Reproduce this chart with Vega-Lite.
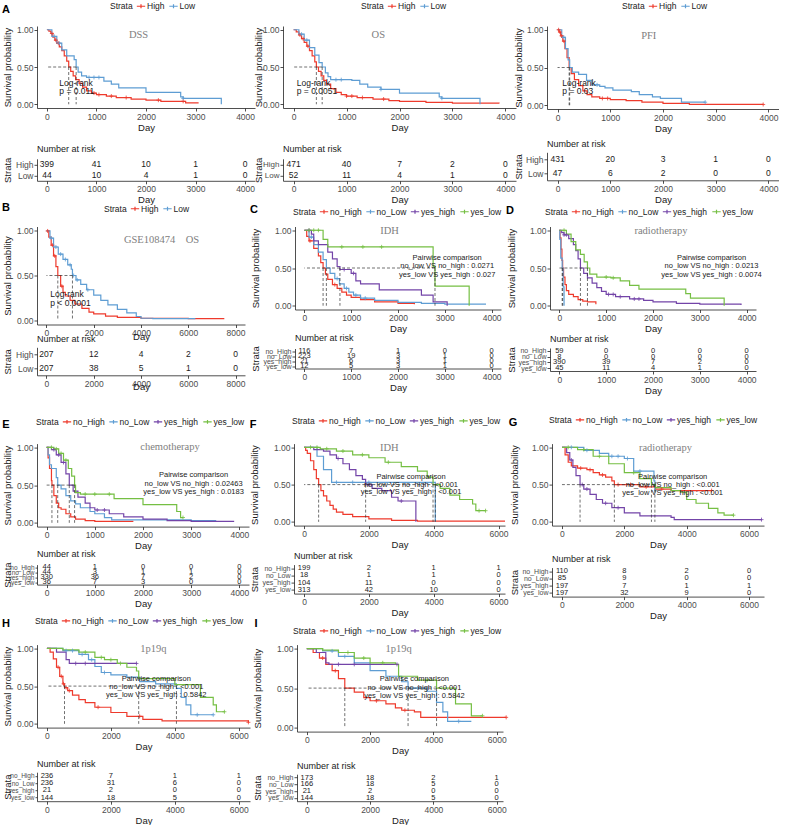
{
"$schema":"https://vega.github.io/schema/vega-lite/v6.json",
"padding":{"left":2,"top":1,"right":0,"bottom":0},
"background":"white",
"datasets":{
"km":[
{"p":"A1","g":"High","t":0,"s":1},{"p":"A1","g":"High","t":40,"s":0.98},{"p":"A1","g":"High","t":80,"s":0.95},{"p":"A1","g":"High","t":120,"s":0.9},{"p":"A1","g":"High","t":160,"s":0.86},{"p":"A1","g":"High","t":200,"s":0.82},{"p":"A1","g":"High","t":250,"s":0.77},{"p":"A1","g":"High","t":300,"s":0.72},{"p":"A1","g":"High","t":350,"s":0.65},{"p":"A1","g":"High","t":400,"s":0.58},{"p":"A1","g":"High","t":440,"s":0.5},{"p":"A1","g":"High","t":480,"s":0.44},{"p":"A1","g":"High","t":530,"s":0.38},{"p":"A1","g":"High","t":580,"s":0.33},{"p":"A1","g":"High","t":650,"s":0.28},{"p":"A1","g":"High","t":720,"s":0.23},{"p":"A1","g":"High","t":800,"s":0.18},{"p":"A1","g":"High","t":900,"s":0.15},{"p":"A1","g":"High","t":1000,"s":0.13},{"p":"A1","g":"High","t":1200,"s":0.11},{"p":"A1","g":"High","t":1400,"s":0.09},{"p":"A1","g":"High","t":1700,"s":0.07},{"p":"A1","g":"High","t":2000,"s":0.055},{"p":"A1","g":"High","t":2300,"s":0.04},{"p":"A1","g":"High","t":2800,"s":0.02},{"p":"A1","g":"High","t":3050,"s":0.01},
{"p":"A1","g":"Low","t":0,"s":1},{"p":"A1","g":"Low","t":100,"s":0.91},{"p":"A1","g":"Low","t":200,"s":0.82},{"p":"A1","g":"Low","t":300,"s":0.73},{"p":"A1","g":"Low","t":400,"s":0.65},{"p":"A1","g":"Low","t":550,"s":0.6},{"p":"A1","g":"Low","t":590,"s":0.5},{"p":"A1","g":"Low","t":630,"s":0.43},{"p":"A1","g":"Low","t":700,"s":0.38},{"p":"A1","g":"Low","t":800,"s":0.36},{"p":"A1","g":"Low","t":1150,"s":0.31},{"p":"A1","g":"Low","t":1300,"s":0.27},{"p":"A1","g":"Low","t":1450,"s":0.22},{"p":"A1","g":"Low","t":2000,"s":0.16},{"p":"A1","g":"Low","t":2700,"s":0.1},{"p":"A1","g":"Low","t":2750,"s":0.08},{"p":"A1","g":"Low","t":3520,"s":0},
{"p":"A2","g":"High","t":0,"s":1},{"p":"A2","g":"High","t":50,"s":0.97},{"p":"A2","g":"High","t":100,"s":0.93},{"p":"A2","g":"High","t":150,"s":0.88},{"p":"A2","g":"High","t":200,"s":0.83},{"p":"A2","g":"High","t":250,"s":0.78},{"p":"A2","g":"High","t":300,"s":0.72},{"p":"A2","g":"High","t":350,"s":0.65},{"p":"A2","g":"High","t":400,"s":0.57},{"p":"A2","g":"High","t":430,"s":0.5},{"p":"A2","g":"High","t":470,"s":0.44},{"p":"A2","g":"High","t":520,"s":0.38},{"p":"A2","g":"High","t":570,"s":0.32},{"p":"A2","g":"High","t":620,"s":0.27},{"p":"A2","g":"High","t":700,"s":0.21},{"p":"A2","g":"High","t":800,"s":0.16},{"p":"A2","g":"High","t":900,"s":0.13},{"p":"A2","g":"High","t":1000,"s":0.11},{"p":"A2","g":"High","t":1200,"s":0.09},{"p":"A2","g":"High","t":1500,"s":0.07},{"p":"A2","g":"High","t":1800,"s":0.05},{"p":"A2","g":"High","t":2000,"s":0.04},{"p":"A2","g":"High","t":2500,"s":0.025},{"p":"A2","g":"High","t":3000,"s":0.015},{"p":"A2","g":"High","t":3880,"s":0.01},
{"p":"A2","g":"Low","t":0,"s":1},{"p":"A2","g":"Low","t":100,"s":0.94},{"p":"A2","g":"Low","t":200,"s":0.86},{"p":"A2","g":"Low","t":300,"s":0.76},{"p":"A2","g":"Low","t":400,"s":0.66},{"p":"A2","g":"Low","t":480,"s":0.56},{"p":"A2","g":"Low","t":540,"s":0.5},{"p":"A2","g":"Low","t":600,"s":0.42},{"p":"A2","g":"Low","t":650,"s":0.37},{"p":"A2","g":"Low","t":700,"s":0.33},{"p":"A2","g":"Low","t":1100,"s":0.32},{"p":"A2","g":"Low","t":1250,"s":0.27},{"p":"A2","g":"Low","t":1400,"s":0.23},{"p":"A2","g":"Low","t":1650,"s":0.2},{"p":"A2","g":"Low","t":2000,"s":0.15},{"p":"A2","g":"Low","t":2750,"s":0.1},{"p":"A2","g":"Low","t":2800,"s":0.08},{"p":"A2","g":"Low","t":3520,"s":0},
{"p":"A3","g":"High","t":0,"s":1},{"p":"A3","g":"High","t":30,"s":0.97},{"p":"A3","g":"High","t":60,"s":0.92},{"p":"A3","g":"High","t":100,"s":0.85},{"p":"A3","g":"High","t":140,"s":0.75},{"p":"A3","g":"High","t":180,"s":0.63},{"p":"A3","g":"High","t":220,"s":0.5},{"p":"A3","g":"High","t":260,"s":0.42},{"p":"A3","g":"High","t":320,"s":0.34},{"p":"A3","g":"High","t":400,"s":0.26},{"p":"A3","g":"High","t":480,"s":0.19},{"p":"A3","g":"High","t":560,"s":0.14},{"p":"A3","g":"High","t":650,"s":0.11},{"p":"A3","g":"High","t":800,"s":0.09},{"p":"A3","g":"High","t":1000,"s":0.075},{"p":"A3","g":"High","t":1300,"s":0.06},{"p":"A3","g":"High","t":1600,"s":0.04},{"p":"A3","g":"High","t":2000,"s":0.025},{"p":"A3","g":"High","t":2500,"s":0.01},{"p":"A3","g":"High","t":3900,"s":0.01},
{"p":"A3","g":"Low","t":0,"s":1},{"p":"A3","g":"Low","t":80,"s":0.9},{"p":"A3","g":"Low","t":150,"s":0.75},{"p":"A3","g":"Low","t":200,"s":0.6},{"p":"A3","g":"Low","t":230,"s":0.5},{"p":"A3","g":"Low","t":280,"s":0.44},{"p":"A3","g":"Low","t":400,"s":0.41},{"p":"A3","g":"Low","t":550,"s":0.33},{"p":"A3","g":"Low","t":650,"s":0.27},{"p":"A3","g":"Low","t":800,"s":0.25},{"p":"A3","g":"Low","t":900,"s":0.23},{"p":"A3","g":"Low","t":1050,"s":0.2},{"p":"A3","g":"Low","t":1400,"s":0.18},{"p":"A3","g":"Low","t":1550,"s":0.14},{"p":"A3","g":"Low","t":1800,"s":0.11},{"p":"A3","g":"Low","t":1950,"s":0.09},{"p":"A3","g":"Low","t":2350,"s":0.04},{"p":"A3","g":"Low","t":2800,"s":0.04},
{"p":"B","g":"High","t":0,"s":1},{"p":"B","g":"High","t":100,"s":0.93},{"p":"B","g":"High","t":200,"s":0.84},{"p":"B","g":"High","t":300,"s":0.72},{"p":"B","g":"High","t":400,"s":0.6},{"p":"B","g":"High","t":480,"s":0.5},{"p":"B","g":"High","t":600,"s":0.38},{"p":"B","g":"High","t":700,"s":0.31},{"p":"B","g":"High","t":800,"s":0.27},{"p":"B","g":"High","t":1000,"s":0.22},{"p":"B","g":"High","t":1200,"s":0.18},{"p":"B","g":"High","t":1500,"s":0.13},{"p":"B","g":"High","t":1800,"s":0.09},{"p":"B","g":"High","t":2000,"s":0.07},{"p":"B","g":"High","t":2500,"s":0.045},{"p":"B","g":"High","t":3000,"s":0.03},{"p":"B","g":"High","t":4000,"s":0.02},{"p":"B","g":"High","t":5000,"s":0.02},{"p":"B","g":"High","t":6000,"s":0.015},{"p":"B","g":"High","t":7500,"s":0.01},
{"p":"B","g":"Low","t":0,"s":1},{"p":"B","g":"Low","t":150,"s":0.92},{"p":"B","g":"Low","t":300,"s":0.82},{"p":"B","g":"Low","t":500,"s":0.74},{"p":"B","g":"Low","t":700,"s":0.68},{"p":"B","g":"Low","t":900,"s":0.62},{"p":"B","g":"Low","t":1050,"s":0.57},{"p":"B","g":"Low","t":1100,"s":0.5},{"p":"B","g":"Low","t":1250,"s":0.45},{"p":"B","g":"Low","t":1450,"s":0.4},{"p":"B","g":"Low","t":1700,"s":0.34},{"p":"B","g":"Low","t":2000,"s":0.28},{"p":"B","g":"Low","t":2300,"s":0.22},{"p":"B","g":"Low","t":2600,"s":0.17},{"p":"B","g":"Low","t":3000,"s":0.12},{"p":"B","g":"Low","t":3400,"s":0.08},{"p":"B","g":"Low","t":3800,"s":0.04},{"p":"B","g":"Low","t":4000,"s":0.02},{"p":"B","g":"Low","t":4500,"s":0.015},{"p":"B","g":"Low","t":6300,"s":0.015},
{"p":"C","g":"no_High","t":0,"s":1},{"p":"C","g":"no_High","t":50,"s":0.92},{"p":"C","g":"no_High","t":100,"s":0.86},{"p":"C","g":"no_High","t":200,"s":0.76},{"p":"C","g":"no_High","t":300,"s":0.66},{"p":"C","g":"no_High","t":350,"s":0.57},{"p":"C","g":"no_High","t":400,"s":0.5},{"p":"C","g":"no_High","t":450,"s":0.42},{"p":"C","g":"no_High","t":500,"s":0.35},{"p":"C","g":"no_High","t":600,"s":0.28},{"p":"C","g":"no_High","t":700,"s":0.23},{"p":"C","g":"no_High","t":800,"s":0.18},{"p":"C","g":"no_High","t":900,"s":0.14},{"p":"C","g":"no_High","t":1000,"s":0.11},{"p":"C","g":"no_High","t":1200,"s":0.08},{"p":"C","g":"no_High","t":1500,"s":0.05},{"p":"C","g":"no_High","t":2000,"s":0.03},{"p":"C","g":"no_High","t":2350,"s":0.02},
{"p":"C","g":"no_Low","t":0,"s":1},{"p":"C","g":"no_Low","t":100,"s":0.91},{"p":"C","g":"no_Low","t":200,"s":0.81},{"p":"C","g":"no_Low","t":300,"s":0.71},{"p":"C","g":"no_Low","t":400,"s":0.61},{"p":"C","g":"no_Low","t":470,"s":0.5},{"p":"C","g":"no_Low","t":550,"s":0.43},{"p":"C","g":"no_Low","t":650,"s":0.36},{"p":"C","g":"no_Low","t":750,"s":0.29},{"p":"C","g":"no_Low","t":850,"s":0.23},{"p":"C","g":"no_Low","t":950,"s":0.18},{"p":"C","g":"no_Low","t":1050,"s":0.14},{"p":"C","g":"no_Low","t":1200,"s":0.1},{"p":"C","g":"no_Low","t":1500,"s":0.07},{"p":"C","g":"no_Low","t":2000,"s":0.045},{"p":"C","g":"no_Low","t":2500,"s":0.03},{"p":"C","g":"no_Low","t":3000,"s":0.02},{"p":"C","g":"no_Low","t":3880,"s":0.02},
{"p":"C","g":"yes_high","t":0,"s":1},{"p":"C","g":"yes_high","t":150,"s":0.95},{"p":"C","g":"yes_high","t":200,"s":0.86},{"p":"C","g":"yes_high","t":300,"s":0.81},{"p":"C","g":"yes_high","t":500,"s":0.71},{"p":"C","g":"yes_high","t":600,"s":0.62},{"p":"C","g":"yes_high","t":700,"s":0.52},{"p":"C","g":"yes_high","t":760,"s":0.48},{"p":"C","g":"yes_high","t":1000,"s":0.43},{"p":"C","g":"yes_high","t":1100,"s":0.33},{"p":"C","g":"yes_high","t":1200,"s":0.29},{"p":"C","g":"yes_high","t":1600,"s":0.21},{"p":"C","g":"yes_high","t":2500,"s":0.14},{"p":"C","g":"yes_high","t":2750,"s":0.05},{"p":"C","g":"yes_high","t":3050,"s":0},
{"p":"C","g":"yes_low","t":0,"s":1},{"p":"C","g":"yes_low","t":400,"s":0.88},{"p":"C","g":"yes_low","t":500,"s":0.78},{"p":"C","g":"yes_low","t":2750,"s":0.52},{"p":"C","g":"yes_low","t":2790,"s":0.26},{"p":"C","g":"yes_low","t":3520,"s":0},
{"p":"D","g":"no_High","t":0,"s":1},{"p":"D","g":"no_High","t":15,"s":0.9},{"p":"D","g":"no_High","t":35,"s":0.75},{"p":"D","g":"no_High","t":55,"s":0.6},{"p":"D","g":"no_High","t":70,"s":0.5},{"p":"D","g":"no_High","t":90,"s":0.38},{"p":"D","g":"no_High","t":120,"s":0.28},{"p":"D","g":"no_High","t":150,"s":0.2},{"p":"D","g":"no_High","t":200,"s":0.15},{"p":"D","g":"no_High","t":300,"s":0.12},{"p":"D","g":"no_High","t":400,"s":0.08},{"p":"D","g":"no_High","t":500,"s":0.06},{"p":"D","g":"no_High","t":600,"s":0.05},{"p":"D","g":"no_High","t":780,"s":0.02},
{"p":"D","g":"no_Low","t":0,"s":1},{"p":"D","g":"no_Low","t":10,"s":0.88},{"p":"D","g":"no_Low","t":30,"s":0.63},{"p":"D","g":"no_Low","t":60,"s":0.5},{"p":"D","g":"no_Low","t":80,"s":0.25},{"p":"D","g":"no_Low","t":100,"s":0},
{"p":"D","g":"yes_high","t":0,"s":1},{"p":"D","g":"yes_high","t":50,"s":0.97},{"p":"D","g":"yes_high","t":100,"s":0.94},{"p":"D","g":"yes_high","t":200,"s":0.89},{"p":"D","g":"yes_high","t":300,"s":0.81},{"p":"D","g":"yes_high","t":350,"s":0.73},{"p":"D","g":"yes_high","t":400,"s":0.62},{"p":"D","g":"yes_high","t":450,"s":0.5},{"p":"D","g":"yes_high","t":520,"s":0.43},{"p":"D","g":"yes_high","t":600,"s":0.37},{"p":"D","g":"yes_high","t":700,"s":0.3},{"p":"D","g":"yes_high","t":800,"s":0.24},{"p":"D","g":"yes_high","t":900,"s":0.19},{"p":"D","g":"yes_high","t":1000,"s":0.15},{"p":"D","g":"yes_high","t":1200,"s":0.12},{"p":"D","g":"yes_high","t":1500,"s":0.09},{"p":"D","g":"yes_high","t":1800,"s":0.07},{"p":"D","g":"yes_high","t":2000,"s":0.05},{"p":"D","g":"yes_high","t":2500,"s":0.03},{"p":"D","g":"yes_high","t":3000,"s":0.02},{"p":"D","g":"yes_high","t":3880,"s":0.01},
{"p":"D","g":"yes_low","t":0,"s":1},{"p":"D","g":"yes_low","t":150,"s":0.95},{"p":"D","g":"yes_low","t":250,"s":0.85},{"p":"D","g":"yes_low","t":350,"s":0.74},{"p":"D","g":"yes_low","t":450,"s":0.68},{"p":"D","g":"yes_low","t":530,"s":0.58},{"p":"D","g":"yes_low","t":600,"s":0.5},{"p":"D","g":"yes_low","t":650,"s":0.42},{"p":"D","g":"yes_low","t":800,"s":0.38},{"p":"D","g":"yes_low","t":1100,"s":0.37},{"p":"D","g":"yes_low","t":1300,"s":0.33},{"p":"D","g":"yes_low","t":1500,"s":0.27},{"p":"D","g":"yes_low","t":1700,"s":0.22},{"p":"D","g":"yes_low","t":2000,"s":0.22},{"p":"D","g":"yes_low","t":2700,"s":0.16},{"p":"D","g":"yes_low","t":2800,"s":0.1},{"p":"D","g":"yes_low","t":3500,"s":0.1},{"p":"D","g":"yes_low","t":3520,"s":0},
{"p":"E","g":"no_High","t":0,"s":1},{"p":"E","g":"no_High","t":30,"s":0.86},{"p":"E","g":"no_High","t":60,"s":0.72},{"p":"E","g":"no_High","t":100,"s":0.56},{"p":"E","g":"no_High","t":110,"s":0.5},{"p":"E","g":"no_High","t":150,"s":0.36},{"p":"E","g":"no_High","t":200,"s":0.26},{"p":"E","g":"no_High","t":250,"s":0.2},{"p":"E","g":"no_High","t":300,"s":0.18},{"p":"E","g":"no_High","t":400,"s":0.12},{"p":"E","g":"no_High","t":500,"s":0.08},{"p":"E","g":"no_High","t":600,"s":0.05},{"p":"E","g":"no_High","t":800,"s":0.03},{"p":"E","g":"no_High","t":1000,"s":0.02},{"p":"E","g":"no_High","t":1800,"s":0.02},
{"p":"E","g":"no_Low","t":0,"s":1},{"p":"E","g":"no_Low","t":30,"s":0.9},{"p":"E","g":"no_Low","t":60,"s":0.77},{"p":"E","g":"no_Low","t":100,"s":0.72},{"p":"E","g":"no_Low","t":200,"s":0.6},{"p":"E","g":"no_Low","t":230,"s":0.5},{"p":"E","g":"no_Low","t":300,"s":0.45},{"p":"E","g":"no_Low","t":400,"s":0.36},{"p":"E","g":"no_Low","t":500,"s":0.29},{"p":"E","g":"no_Low","t":600,"s":0.25},{"p":"E","g":"no_Low","t":700,"s":0.2},{"p":"E","g":"no_Low","t":900,"s":0.15},{"p":"E","g":"no_Low","t":1000,"s":0.12},{"p":"E","g":"no_Low","t":1200,"s":0.07},{"p":"E","g":"no_Low","t":1350,"s":0.04},{"p":"E","g":"no_Low","t":2000,"s":0.04},{"p":"E","g":"no_Low","t":3000,"s":0.03},{"p":"E","g":"no_Low","t":3520,"s":0.03},
{"p":"E","g":"yes_high","t":0,"s":1},{"p":"E","g":"yes_high","t":100,"s":0.97},{"p":"E","g":"yes_high","t":200,"s":0.9},{"p":"E","g":"yes_high","t":300,"s":0.8},{"p":"E","g":"yes_high","t":400,"s":0.65},{"p":"E","g":"yes_high","t":470,"s":0.5},{"p":"E","g":"yes_high","t":550,"s":0.42},{"p":"E","g":"yes_high","t":650,"s":0.34},{"p":"E","g":"yes_high","t":800,"s":0.26},{"p":"E","g":"yes_high","t":900,"s":0.2},{"p":"E","g":"yes_high","t":1000,"s":0.17},{"p":"E","g":"yes_high","t":1300,"s":0.12},{"p":"E","g":"yes_high","t":1600,"s":0.08},{"p":"E","g":"yes_high","t":2000,"s":0.05},{"p":"E","g":"yes_high","t":2500,"s":0.03},{"p":"E","g":"yes_high","t":3000,"s":0.02},{"p":"E","g":"yes_high","t":3880,"s":0.01},
{"p":"E","g":"yes_low","t":0,"s":1},{"p":"E","g":"yes_low","t":150,"s":0.98},{"p":"E","g":"yes_low","t":250,"s":0.92},{"p":"E","g":"yes_low","t":350,"s":0.83},{"p":"E","g":"yes_low","t":450,"s":0.72},{"p":"E","g":"yes_low","t":520,"s":0.62},{"p":"E","g":"yes_low","t":580,"s":0.5},{"p":"E","g":"yes_low","t":600,"s":0.4},{"p":"E","g":"yes_low","t":700,"s":0.38},{"p":"E","g":"yes_low","t":1400,"s":0.32},{"p":"E","g":"yes_low","t":2000,"s":0.24},{"p":"E","g":"yes_low","t":2700,"s":0.15},{"p":"E","g":"yes_low","t":2780,"s":0.07},{"p":"E","g":"yes_low","t":2830,"s":0.07},
{"p":"F","g":"no_High","t":0,"s":1},{"p":"F","g":"no_High","t":50,"s":0.96},{"p":"F","g":"no_High","t":100,"s":0.92},{"p":"F","g":"no_High","t":200,"s":0.82},{"p":"F","g":"no_High","t":300,"s":0.7},{"p":"F","g":"no_High","t":380,"s":0.58},{"p":"F","g":"no_High","t":450,"s":0.5},{"p":"F","g":"no_High","t":520,"s":0.42},{"p":"F","g":"no_High","t":600,"s":0.35},{"p":"F","g":"no_High","t":700,"s":0.28},{"p":"F","g":"no_High","t":800,"s":0.22},{"p":"F","g":"no_High","t":900,"s":0.17},{"p":"F","g":"no_High","t":1000,"s":0.13},{"p":"F","g":"no_High","t":1200,"s":0.1},{"p":"F","g":"no_High","t":1500,"s":0.07},{"p":"F","g":"no_High","t":2000,"s":0.04},{"p":"F","g":"no_High","t":2700,"s":0.02},{"p":"F","g":"no_High","t":3500,"s":0.01},{"p":"F","g":"no_High","t":6200,"s":0.01},
{"p":"F","g":"no_Low","t":0,"s":1},{"p":"F","g":"no_Low","t":400,"s":0.88},{"p":"F","g":"no_Low","t":600,"s":0.7},{"p":"F","g":"no_Low","t":850,"s":0.53},{"p":"F","g":"no_Low","t":4050,"s":0},
{"p":"F","g":"yes_high","t":0,"s":1},{"p":"F","g":"yes_high","t":300,"s":0.97},{"p":"F","g":"yes_high","t":600,"s":0.95},{"p":"F","g":"yes_high","t":800,"s":0.9},{"p":"F","g":"yes_high","t":1000,"s":0.85},{"p":"F","g":"yes_high","t":1200,"s":0.78},{"p":"F","g":"yes_high","t":1400,"s":0.7},{"p":"F","g":"yes_high","t":1600,"s":0.62},{"p":"F","g":"yes_high","t":1800,"s":0.57},{"p":"F","g":"yes_high","t":1900,"s":0.5},{"p":"F","g":"yes_high","t":2100,"s":0.45},{"p":"F","g":"yes_high","t":2400,"s":0.42},{"p":"F","g":"yes_high","t":2700,"s":0.33},{"p":"F","g":"yes_high","t":2900,"s":0.28},{"p":"F","g":"yes_high","t":3450,"s":0},
{"p":"F","g":"yes_low","t":0,"s":1},{"p":"F","g":"yes_low","t":500,"s":0.98},{"p":"F","g":"yes_low","t":1000,"s":0.95},{"p":"F","g":"yes_low","t":1500,"s":0.9},{"p":"F","g":"yes_low","t":2000,"s":0.86},{"p":"F","g":"yes_low","t":2500,"s":0.8},{"p":"F","g":"yes_low","t":3000,"s":0.74},{"p":"F","g":"yes_low","t":3500,"s":0.68},{"p":"F","g":"yes_low","t":3800,"s":0.6},{"p":"F","g":"yes_low","t":3980,"s":0.5},{"p":"F","g":"yes_low","t":4200,"s":0.45},{"p":"F","g":"yes_low","t":4500,"s":0.36},{"p":"F","g":"yes_low","t":4800,"s":0.3},{"p":"F","g":"yes_low","t":5200,"s":0.24},{"p":"F","g":"yes_low","t":5300,"s":0.15},{"p":"F","g":"yes_low","t":5600,"s":0.15},
{"p":"G","g":"no_High","t":0,"s":1},{"p":"G","g":"no_High","t":100,"s":0.9},{"p":"G","g":"no_High","t":200,"s":0.8},{"p":"G","g":"no_High","t":300,"s":0.75},{"p":"G","g":"no_High","t":500,"s":0.72},{"p":"G","g":"no_High","t":800,"s":0.7},{"p":"G","g":"no_High","t":1000,"s":0.66},{"p":"G","g":"no_High","t":1200,"s":0.63},{"p":"G","g":"no_High","t":1400,"s":0.6},{"p":"G","g":"no_High","t":1600,"s":0.55},{"p":"G","g":"no_High","t":1680,"s":0.5},{"p":"G","g":"no_High","t":2500,"s":0.47},{"p":"G","g":"no_High","t":3000,"s":0.44},{"p":"G","g":"no_High","t":3500,"s":0.42},{"p":"G","g":"no_High","t":4800,"s":0.42},
{"p":"G","g":"no_Low","t":0,"s":1},{"p":"G","g":"no_Low","t":700,"s":0.96},{"p":"G","g":"no_Low","t":1200,"s":0.92},{"p":"G","g":"no_Low","t":1500,"s":0.88},{"p":"G","g":"no_Low","t":2000,"s":0.85},{"p":"G","g":"no_Low","t":2300,"s":0.68},{"p":"G","g":"no_Low","t":2950,"s":0.55},{"p":"G","g":"no_Low","t":2980,"s":0.42},{"p":"G","g":"no_Low","t":3020,"s":0.42},
{"p":"G","g":"yes_high","t":0,"s":1},{"p":"G","g":"yes_high","t":150,"s":0.93},{"p":"G","g":"yes_high","t":250,"s":0.83},{"p":"G","g":"yes_high","t":350,"s":0.73},{"p":"G","g":"yes_high","t":450,"s":0.62},{"p":"G","g":"yes_high","t":580,"s":0.5},{"p":"G","g":"yes_high","t":700,"s":0.44},{"p":"G","g":"yes_high","t":900,"s":0.37},{"p":"G","g":"yes_high","t":1100,"s":0.3},{"p":"G","g":"yes_high","t":1300,"s":0.25},{"p":"G","g":"yes_high","t":1600,"s":0.19},{"p":"G","g":"yes_high","t":2000,"s":0.12},{"p":"G","g":"yes_high","t":2500,"s":0.08},{"p":"G","g":"yes_high","t":3500,"s":0.06},{"p":"G","g":"yes_high","t":3600,"s":0.03},{"p":"G","g":"yes_high","t":6400,"s":0.03},
{"p":"G","g":"yes_low","t":0,"s":1},{"p":"G","g":"yes_low","t":500,"s":0.97},{"p":"G","g":"yes_low","t":1000,"s":0.88},{"p":"G","g":"yes_low","t":1500,"s":0.78},{"p":"G","g":"yes_low","t":2000,"s":0.66},{"p":"G","g":"yes_low","t":2500,"s":0.58},{"p":"G","g":"yes_low","t":2870,"s":0.5},{"p":"G","g":"yes_low","t":3000,"s":0.46},{"p":"G","g":"yes_low","t":3500,"s":0.42},{"p":"G","g":"yes_low","t":3800,"s":0.4},{"p":"G","g":"yes_low","t":4000,"s":0.3},{"p":"G","g":"yes_low","t":4300,"s":0.25},{"p":"G","g":"yes_low","t":4700,"s":0.18},{"p":"G","g":"yes_low","t":5000,"s":0.12},{"p":"G","g":"yes_low","t":5200,"s":0.09},{"p":"G","g":"yes_low","t":5500,"s":0.09},
{"p":"H","g":"no_High","t":0,"s":1},{"p":"H","g":"no_High","t":100,"s":0.95},{"p":"H","g":"no_High","t":200,"s":0.86},{"p":"H","g":"no_High","t":300,"s":0.75},{"p":"H","g":"no_High","t":400,"s":0.63},{"p":"H","g":"no_High","t":500,"s":0.53},{"p":"H","g":"no_High","t":550,"s":0.48},{"p":"H","g":"no_High","t":650,"s":0.44},{"p":"H","g":"no_High","t":800,"s":0.38},{"p":"H","g":"no_High","t":1000,"s":0.32},{"p":"H","g":"no_High","t":1200,"s":0.28},{"p":"H","g":"no_High","t":1500,"s":0.22},{"p":"H","g":"no_High","t":2000,"s":0.15},{"p":"H","g":"no_High","t":2500,"s":0.1},{"p":"H","g":"no_High","t":3000,"s":0.06},{"p":"H","g":"no_High","t":3600,"s":0.04},{"p":"H","g":"no_High","t":6300,"s":0.02},
{"p":"H","g":"no_Low","t":0,"s":1},{"p":"H","g":"no_Low","t":500,"s":0.97},{"p":"H","g":"no_Low","t":1000,"s":0.92},{"p":"H","g":"no_Low","t":1300,"s":0.85},{"p":"H","g":"no_Low","t":1500,"s":0.76},{"p":"H","g":"no_Low","t":1700,"s":0.68},{"p":"H","g":"no_Low","t":2000,"s":0.65},{"p":"H","g":"no_Low","t":2500,"s":0.62},{"p":"H","g":"no_Low","t":2900,"s":0.56},{"p":"H","g":"no_Low","t":3400,"s":0.53},{"p":"H","g":"no_Low","t":4050,"s":0.47},{"p":"H","g":"no_Low","t":4200,"s":0.35},{"p":"H","g":"no_Low","t":4350,"s":0.25},{"p":"H","g":"no_Low","t":4500,"s":0.12},{"p":"H","g":"no_Low","t":5200,"s":0.12},
{"p":"H","g":"yes_high","t":0,"s":1},{"p":"H","g":"yes_high","t":300,"s":0.95},{"p":"H","g":"yes_high","t":600,"s":0.85},{"p":"H","g":"yes_high","t":700,"s":0.8},{"p":"H","g":"yes_high","t":2800,"s":0.8},
{"p":"H","g":"yes_low","t":0,"s":1},{"p":"H","g":"yes_low","t":500,"s":0.98},{"p":"H","g":"yes_low","t":1000,"s":0.95},{"p":"H","g":"yes_low","t":1500,"s":0.88},{"p":"H","g":"yes_low","t":1800,"s":0.85},{"p":"H","g":"yes_low","t":2200,"s":0.8},{"p":"H","g":"yes_low","t":2500,"s":0.75},{"p":"H","g":"yes_low","t":2800,"s":0.7},{"p":"H","g":"yes_low","t":2870,"s":0.6},{"p":"H","g":"yes_low","t":4000,"s":0.52},{"p":"H","g":"yes_low","t":4800,"s":0.35},{"p":"H","g":"yes_low","t":5200,"s":0.25},{"p":"H","g":"yes_low","t":5300,"s":0.16},{"p":"H","g":"yes_low","t":5550,"s":0.16},
{"p":"I","g":"no_High","t":0,"s":1},{"p":"I","g":"no_High","t":200,"s":0.95},{"p":"I","g":"no_High","t":400,"s":0.88},{"p":"I","g":"no_High","t":600,"s":0.8},{"p":"I","g":"no_High","t":800,"s":0.72},{"p":"I","g":"no_High","t":1000,"s":0.62},{"p":"I","g":"no_High","t":1200,"s":0.5},{"p":"I","g":"no_High","t":1500,"s":0.45},{"p":"I","g":"no_High","t":1800,"s":0.38},{"p":"I","g":"no_High","t":2000,"s":0.34},{"p":"I","g":"no_High","t":2500,"s":0.3},{"p":"I","g":"no_High","t":2800,"s":0.25},{"p":"I","g":"no_High","t":3000,"s":0.22},{"p":"I","g":"no_High","t":3400,"s":0.2},{"p":"I","g":"no_High","t":3600,"s":0.13},{"p":"I","g":"no_High","t":6300,"s":0.13},
{"p":"I","g":"no_Low","t":0,"s":1},{"p":"I","g":"no_Low","t":500,"s":0.97},{"p":"I","g":"no_Low","t":1000,"s":0.9},{"p":"I","g":"no_Low","t":1500,"s":0.82},{"p":"I","g":"no_Low","t":2000,"s":0.72},{"p":"I","g":"no_Low","t":2500,"s":0.65},{"p":"I","g":"no_Low","t":3000,"s":0.58},{"p":"I","g":"no_Low","t":3200,"s":0.5},{"p":"I","g":"no_Low","t":3800,"s":0.46},{"p":"I","g":"no_Low","t":4100,"s":0.32},{"p":"I","g":"no_Low","t":4300,"s":0.2},{"p":"I","g":"no_Low","t":4450,"s":0.08},{"p":"I","g":"no_Low","t":5200,"s":0.08},
{"p":"I","g":"yes_high","t":0,"s":1},{"p":"I","g":"yes_high","t":300,"s":0.95},{"p":"I","g":"yes_high","t":600,"s":0.82},{"p":"I","g":"yes_high","t":700,"s":0.8},{"p":"I","g":"yes_high","t":2850,"s":0.8},
{"p":"I","g":"yes_low","t":0,"s":1},{"p":"I","g":"yes_low","t":500,"s":0.98},{"p":"I","g":"yes_low","t":1000,"s":0.95},{"p":"I","g":"yes_low","t":1500,"s":0.88},{"p":"I","g":"yes_low","t":2000,"s":0.82},{"p":"I","g":"yes_low","t":2800,"s":0.8},{"p":"I","g":"yes_low","t":2900,"s":0.65},{"p":"I","g":"yes_low","t":3500,"s":0.6},{"p":"I","g":"yes_low","t":4100,"s":0.5},{"p":"I","g":"yes_low","t":4700,"s":0.3},{"p":"I","g":"yes_low","t":5200,"s":0.15},{"p":"I","g":"yes_low","t":5550,"s":0.15}
],
"cen":[
{"p":"A1","g":"High","t":100,"s":0.95},{"p":"A1","g":"High","t":180,"s":0.86},{"p":"A1","g":"High","t":230,"s":0.82},{"p":"A1","g":"High","t":950,"s":0.15},{"p":"A1","g":"High","t":1050,"s":0.13},{"p":"A1","g":"High","t":1300,"s":0.11},{"p":"A1","g":"High","t":1600,"s":0.09},{"p":"A1","g":"High","t":2250,"s":0.055},{"p":"A1","g":"High","t":2750,"s":0.04},
{"p":"A1","g":"Low","t":150,"s":0.91},{"p":"A1","g":"Low","t":250,"s":0.82},{"p":"A1","g":"Low","t":850,"s":0.36},{"p":"A1","g":"Low","t":950,"s":0.36},{"p":"A1","g":"Low","t":1050,"s":0.36},{"p":"A1","g":"Low","t":2750,"s":0.08},
{"p":"A2","g":"High","t":120,"s":0.93},{"p":"A2","g":"High","t":180,"s":0.88},{"p":"A2","g":"High","t":270,"s":0.78},{"p":"A2","g":"High","t":1000,"s":0.11},{"p":"A2","g":"High","t":1100,"s":0.11},{"p":"A2","g":"High","t":1300,"s":0.09},{"p":"A2","g":"High","t":1700,"s":0.07},
{"p":"A2","g":"Low","t":150,"s":0.94},{"p":"A2","g":"Low","t":250,"s":0.86},{"p":"A2","g":"Low","t":800,"s":0.33},{"p":"A2","g":"Low","t":900,"s":0.33},{"p":"A2","g":"Low","t":1650,"s":0.2},{"p":"A2","g":"Low","t":2800,"s":0.08},
{"p":"A3","g":"High","t":20,"s":1},{"p":"A3","g":"High","t":45,"s":0.97},{"p":"A3","g":"High","t":75,"s":0.92},{"p":"A3","g":"High","t":120,"s":0.85},{"p":"A3","g":"High","t":850,"s":0.09},{"p":"A3","g":"High","t":950,"s":0.09},{"p":"A3","g":"High","t":3900,"s":0.01},
{"p":"A3","g":"Low","t":120,"s":0.9},{"p":"A3","g":"Low","t":750,"s":0.27},{"p":"A3","g":"Low","t":2800,"s":0.04},
{"p":"B","g":"High","t":50,"s":1},{"p":"B","g":"High","t":250,"s":0.84},{"p":"B","g":"High","t":350,"s":0.72},{"p":"B","g":"High","t":650,"s":0.38},
{"p":"B","g":"Low","t":200,"s":0.92},{"p":"B","g":"Low","t":400,"s":0.82},{"p":"B","g":"Low","t":600,"s":0.74},{"p":"B","g":"Low","t":800,"s":0.68},{"p":"B","g":"Low","t":1000,"s":0.62},{"p":"B","g":"Low","t":1150,"s":0.5},{"p":"B","g":"Low","t":1300,"s":0.45},{"p":"B","g":"Low","t":1750,"s":0.34},
{"p":"C","g":"no_High","t":120,"s":0.86},{"p":"C","g":"no_High","t":650,"s":0.28},
{"p":"C","g":"no_Low","t":150,"s":0.91},{"p":"C","g":"no_Low","t":700,"s":0.36},{"p":"C","g":"no_Low","t":900,"s":0.23},{"p":"C","g":"no_Low","t":1100,"s":0.14},{"p":"C","g":"no_Low","t":1300,"s":0.1},
{"p":"C","g":"yes_high","t":100,"s":1},{"p":"C","g":"yes_high","t":850,"s":0.48},{"p":"C","g":"yes_high","t":1050,"s":0.43},
{"p":"C","g":"yes_low","t":100,"s":1},{"p":"C","g":"yes_low","t":200,"s":1},{"p":"C","g":"yes_low","t":300,"s":1},{"p":"C","g":"yes_low","t":800,"s":0.78},{"p":"C","g":"yes_low","t":1250,"s":0.78},{"p":"C","g":"yes_low","t":1650,"s":0.78},
{"p":"D","g":"yes_high","t":100,"s":0.94},{"p":"D","g":"yes_high","t":150,"s":0.94},{"p":"D","g":"yes_high","t":1050,"s":0.15},{"p":"D","g":"yes_high","t":1150,"s":0.15},{"p":"D","g":"yes_high","t":1300,"s":0.12},{"p":"D","g":"yes_high","t":1600,"s":0.09},{"p":"D","g":"yes_high","t":1700,"s":0.09},
{"p":"D","g":"yes_low","t":100,"s":1},{"p":"D","g":"yes_low","t":1000,"s":0.38},{"p":"D","g":"yes_low","t":1150,"s":0.37},
{"p":"E","g":"yes_high","t":150,"s":0.97},{"p":"E","g":"yes_high","t":250,"s":0.9},{"p":"E","g":"yes_high","t":350,"s":0.8},{"p":"E","g":"yes_high","t":1050,"s":0.17},{"p":"E","g":"yes_high","t":1200,"s":0.17},
{"p":"E","g":"yes_low","t":100,"s":1},{"p":"E","g":"yes_low","t":200,"s":0.98},{"p":"E","g":"yes_low","t":300,"s":0.92},{"p":"E","g":"yes_low","t":400,"s":0.83},{"p":"E","g":"yes_low","t":800,"s":0.38},{"p":"E","g":"yes_low","t":1000,"s":0.38},{"p":"E","g":"yes_low","t":1300,"s":0.38},{"p":"E","g":"yes_low","t":2830,"s":0.07},
{"p":"F","g":"no_Low","t":1000,"s":0.53},{"p":"F","g":"no_Low","t":1500,"s":0.53},{"p":"F","g":"no_Low","t":2000,"s":0.53},
{"p":"F","g":"yes_high","t":1050,"s":0.85},{"p":"F","g":"yes_high","t":2000,"s":0.5},{"p":"F","g":"yes_high","t":3000,"s":0.28},
{"p":"F","g":"yes_low","t":200,"s":1},{"p":"F","g":"yes_low","t":400,"s":1},{"p":"F","g":"yes_low","t":700,"s":0.98},{"p":"F","g":"yes_low","t":1200,"s":0.95},{"p":"F","g":"yes_low","t":1800,"s":0.9},{"p":"F","g":"yes_low","t":2600,"s":0.8},{"p":"F","g":"yes_low","t":5400,"s":0.15},{"p":"F","g":"yes_low","t":5600,"s":0.15},
{"p":"G","g":"no_High","t":600,"s":0.72},{"p":"G","g":"no_High","t":900,"s":0.7},{"p":"G","g":"no_High","t":1300,"s":0.63},{"p":"G","g":"no_High","t":1800,"s":0.5},{"p":"G","g":"no_High","t":2200,"s":0.5},{"p":"G","g":"no_High","t":2700,"s":0.47},{"p":"G","g":"no_High","t":3200,"s":0.44},{"p":"G","g":"no_High","t":4800,"s":0.42},
{"p":"G","g":"no_Low","t":300,"s":1},{"p":"G","g":"no_Low","t":800,"s":0.96},{"p":"G","g":"no_Low","t":1600,"s":0.88},{"p":"G","g":"no_Low","t":1800,"s":0.88},{"p":"G","g":"no_Low","t":2100,"s":0.85},{"p":"G","g":"no_Low","t":2500,"s":0.68},
{"p":"G","g":"yes_high","t":300,"s":0.83},{"p":"G","g":"yes_high","t":650,"s":0.5},{"p":"G","g":"yes_high","t":800,"s":0.44},{"p":"G","g":"yes_high","t":1400,"s":0.25},{"p":"G","g":"yes_high","t":1800,"s":0.19},{"p":"G","g":"yes_high","t":6400,"s":0.03},
{"p":"G","g":"yes_low","t":200,"s":1},{"p":"G","g":"yes_low","t":700,"s":0.97},{"p":"G","g":"yes_low","t":1200,"s":0.88},{"p":"G","g":"yes_low","t":2300,"s":0.66},{"p":"G","g":"yes_low","t":5500,"s":0.09},
{"p":"H","g":"no_High","t":350,"s":0.75},{"p":"H","g":"no_High","t":450,"s":0.63},{"p":"H","g":"no_High","t":520,"s":0.53},{"p":"H","g":"no_High","t":600,"s":0.48},{"p":"H","g":"no_High","t":700,"s":0.44},{"p":"H","g":"no_High","t":1600,"s":0.22},{"p":"H","g":"no_High","t":2900,"s":0.1},{"p":"H","g":"no_High","t":6300,"s":0.02},
{"p":"H","g":"no_Low","t":600,"s":0.97},{"p":"H","g":"no_Low","t":800,"s":0.97},{"p":"H","g":"no_Low","t":1100,"s":0.92},{"p":"H","g":"no_Low","t":1400,"s":0.85},{"p":"H","g":"no_Low","t":1800,"s":0.68},{"p":"H","g":"no_Low","t":4700,"s":0.12},{"p":"H","g":"no_Low","t":5200,"s":0.12},
{"p":"H","g":"yes_high","t":900,"s":0.8},{"p":"H","g":"yes_high","t":1200,"s":0.8},{"p":"H","g":"yes_high","t":2800,"s":0.8},
{"p":"H","g":"yes_low","t":1200,"s":0.95},{"p":"H","g":"yes_low","t":1700,"s":0.88},{"p":"H","g":"yes_low","t":2000,"s":0.85},{"p":"H","g":"yes_low","t":2300,"s":0.8},{"p":"H","g":"yes_low","t":5550,"s":0.16},
{"p":"I","g":"no_High","t":500,"s":0.88},{"p":"I","g":"no_High","t":900,"s":0.72},{"p":"I","g":"no_High","t":2200,"s":0.34},{"p":"I","g":"no_High","t":3100,"s":0.22},{"p":"I","g":"no_High","t":6300,"s":0.13},
{"p":"I","g":"no_Low","t":800,"s":0.97},{"p":"I","g":"no_Low","t":1200,"s":0.9},{"p":"I","g":"no_Low","t":3500,"s":0.5},{"p":"I","g":"no_Low","t":4800,"s":0.08},
{"p":"I","g":"yes_high","t":1000,"s":0.8},{"p":"I","g":"yes_high","t":1500,"s":0.8},{"p":"I","g":"yes_high","t":2850,"s":0.8},
{"p":"I","g":"yes_low","t":1300,"s":0.95},{"p":"I","g":"yes_low","t":1800,"s":0.88},{"p":"I","g":"yes_low","t":2400,"s":0.82},{"p":"I","g":"yes_low","t":3800,"s":0.6},{"p":"I","g":"yes_low","t":5550,"s":0.15}
],
"med":[
{"p":"A1","t":440},{"p":"A1","t":590},{"p":"A2","t":430},{"p":"A2","t":540},{"p":"A3","t":220},{"p":"A3","t":230},{"p":"B","t":480},{"p":"B","t":1100},
{"p":"C","t":400},{"p":"C","t":470},{"p":"C","t":760},{"p":"C","t":2790},
{"p":"D","t":60},{"p":"D","t":70},{"p":"D","t":450},{"p":"D","t":600},
{"p":"E","t":110},{"p":"E","t":230},{"p":"E","t":470},{"p":"E","t":580},
{"p":"F","t":450},{"p":"F","t":1900},{"p":"F","t":3980},{"p":"F","t":4050},
{"p":"G","t":580},{"p":"G","t":1680},{"p":"G","t":2870},{"p":"G","t":2980},
{"p":"H","t":550},{"p":"H","t":2870},{"p":"H","t":4050},
{"p":"I","t":1200},{"p":"I","t":3200},{"p":"I","t":4100}
],
"ann":[
{"p":"A1","k":"letter","t":-826,"s":1.265,"txt":"A"},{"p":"A1","k":"title","t":1850,"s":0.93,"txt":"DSS"},{"p":"A1","k":"note","t":250,"s":0.28,"txt":"Log-rank"},{"p":"A1","k":"note","t":250,"s":0.18,"txt":"p = 0.011"},
{"p":"A2","k":"title","t":1600,"s":0.93,"txt":"OS"},{"p":"A2","k":"note","t":60,"s":0.28,"txt":"Log-rank"},{"p":"A2","k":"note","t":60,"s":0.18,"txt":"p = 0.0051"},
{"p":"A3","k":"title","t":1730,"s":0.92,"txt":"PFI"},{"p":"A3","k":"note","t":90,"s":0.29,"txt":"Log-rank"},{"p":"A3","k":"note","t":90,"s":0.19,"txt":"p = 0.03"},
{"p":"B","k":"letter","t":-1712,"s":1.263,"txt":"B"},{"p":"B","k":"title","t":4870,"s":0.9,"txt":"GSE108474\u00a0\u00a0\u00a0\u00a0OS"},{"p":"B","k":"note","t":160,"s":0.29,"txt":"Log-rank"},{"p":"B","k":"note","t":160,"s":0.19,"txt":"p < 0.0001"},
{"p":"C","k":"letter","t":-1076,"s":1.275,"txt":"C"},{"p":"C","k":"title","t":1820,"s":0.99,"txt":"IDH"},{"p":"C","k":"pw","t":3050,"s":0.63,"txt":"Pairwise comparison"},{"p":"C","k":"pw","t":3050,"s":0.52,"txt":"no_low VS no_high : 0.0271"},{"p":"C","k":"pw","t":3050,"s":0.41,"txt":"yes_low VS yes_high : 0.027"},
{"p":"D","k":"letter","t":-1054,"s":1.249,"txt":"D"},{"p":"D","k":"title","t":2170,"s":0.99,"txt":"radiotherapy"},{"p":"D","k":"pw","t":3250,"s":0.63,"txt":"Pairwise comparison"},{"p":"D","k":"pw","t":3250,"s":0.52,"txt":"no_low VS no_high : 0.0213"},{"p":"D","k":"pw","t":3250,"s":0.41,"txt":"yes_low VS yes_high : 0.0074"},
{"p":"E","k":"letter","t":-843,"s":1.302,"txt":"E"},{"p":"E","k":"title","t":2560,"s":1.0,"txt":"chemotherapy"},{"p":"E","k":"pw","t":3050,"s":0.64,"txt":"Pairwise comparison"},{"p":"E","k":"pw","t":3050,"s":0.52,"txt":"no_low VS no_high : 0.02463"},{"p":"E","k":"pw","t":3050,"s":0.41,"txt":"yes_low VS yes_high : 0.0183"},
{"p":"F","k":"letter","t":-1575,"s":1.305,"txt":"F"},{"p":"F","k":"title","t":2630,"s":0.99,"txt":"IDH"},{"p":"F","k":"pw","t":3300,"s":0.6,"txt":"Pairwise comparison"},{"p":"F","k":"pw","t":3300,"s":0.5,"txt":"no_low VS no_high : <0.001"},{"p":"F","k":"pw","t":3300,"s":0.4,"txt":"yes_low VS yes_high : <0.001"},
{"p":"G","k":"letter","t":-1571,"s":1.332,"txt":"G"},{"p":"G","k":"title","t":3320,"s":0.99,"txt":"radiotherapy"},{"p":"G","k":"pw","t":3550,"s":0.6,"txt":"Pairwise comparison"},{"p":"G","k":"pw","t":3550,"s":0.5,"txt":"no_low VS no_high : <0.001"},{"p":"G","k":"pw","t":3550,"s":0.39,"txt":"yes_low VS yes_high : <0.001"},
{"p":"H","k":"letter","t":-1279,"s":1.328,"txt":"H"},{"p":"H","k":"title","t":3330,"s":0.99,"txt":"1p19q"},{"p":"H","k":"pw","t":3420,"s":0.6,"txt":"Pairwise comparison"},{"p":"H","k":"pw","t":3420,"s":0.49,"txt":"no_low VS no_high : <0.001"},{"p":"H","k":"pw","t":3420,"s":0.38,"txt":"yes_low VS yes_high : 0.5842"},
{"p":"I","k":"letter","t":-1606,"s":1.315,"txt":"I"},{"p":"I","k":"title","t":2900,"s":1.0,"txt":"1p19q"},{"p":"I","k":"pw","t":3400,"s":0.62,"txt":"Pairwise comparison"},{"p":"I","k":"pw","t":3400,"s":0.5,"txt":"no_low VS no_high : <0.001"},{"p":"I","k":"pw","t":3400,"s":0.4,"txt":"yes_low VS yes_high : 0.5842"}
],
"risk":[
{"p":"A1","g":"High","t":0,"n":399},{"p":"A1","g":"High","t":1000,"n":41},{"p":"A1","g":"High","t":2000,"n":10},{"p":"A1","g":"High","t":3000,"n":1},{"p":"A1","g":"High","t":4000,"n":0},
{"p":"A1","g":"Low","t":0,"n":44},{"p":"A1","g":"Low","t":1000,"n":10},{"p":"A1","g":"Low","t":2000,"n":4},{"p":"A1","g":"Low","t":3000,"n":1},{"p":"A1","g":"Low","t":4000,"n":0},
{"p":"A2","g":"High","t":0,"n":471},{"p":"A2","g":"High","t":1000,"n":40},{"p":"A2","g":"High","t":2000,"n":7},{"p":"A2","g":"High","t":3000,"n":2},{"p":"A2","g":"High","t":4000,"n":0},
{"p":"A2","g":"Low","t":0,"n":52},{"p":"A2","g":"Low","t":1000,"n":11},{"p":"A2","g":"Low","t":2000,"n":4},{"p":"A2","g":"Low","t":3000,"n":1},{"p":"A2","g":"Low","t":4000,"n":0},
{"p":"A3","g":"High","t":0,"n":431},{"p":"A3","g":"High","t":1000,"n":20},{"p":"A3","g":"High","t":2000,"n":3},{"p":"A3","g":"High","t":3000,"n":1},{"p":"A3","g":"High","t":4000,"n":0},
{"p":"A3","g":"Low","t":0,"n":47},{"p":"A3","g":"Low","t":1000,"n":6},{"p":"A3","g":"Low","t":2000,"n":2},{"p":"A3","g":"Low","t":3000,"n":0},{"p":"A3","g":"Low","t":4000,"n":0},
{"p":"B","g":"High","t":0,"n":207},{"p":"B","g":"High","t":2000,"n":12},{"p":"B","g":"High","t":4000,"n":4},{"p":"B","g":"High","t":6000,"n":2},{"p":"B","g":"High","t":8000,"n":0},
{"p":"B","g":"Low","t":0,"n":207},{"p":"B","g":"Low","t":2000,"n":38},{"p":"B","g":"Low","t":4000,"n":5},{"p":"B","g":"Low","t":6000,"n":1},{"p":"B","g":"Low","t":8000,"n":0},
{"p":"C","g":"no_High","t":0,"n":116},{"p":"C","g":"no_High","t":1000,"n":7},{"p":"C","g":"no_High","t":2000,"n":1},{"p":"C","g":"no_High","t":3000,"n":0},{"p":"C","g":"no_High","t":4000,"n":0},
{"p":"C","g":"no_Low","t":0,"n":223},{"p":"C","g":"no_Low","t":1000,"n":19},{"p":"C","g":"no_Low","t":2000,"n":3},{"p":"C","g":"no_Low","t":3000,"n":1},{"p":"C","g":"no_Low","t":4000,"n":0},
{"p":"C","g":"yes_high","t":0,"n":21},{"p":"C","g":"yes_high","t":1000,"n":6},{"p":"C","g":"yes_high","t":2000,"n":3},{"p":"C","g":"yes_high","t":3000,"n":1},{"p":"C","g":"yes_high","t":4000,"n":0},
{"p":"C","g":"yes_low","t":0,"n":12},{"p":"C","g":"yes_low","t":1000,"n":5},{"p":"C","g":"yes_low","t":2000,"n":3},{"p":"C","g":"yes_low","t":3000,"n":1},{"p":"C","g":"yes_low","t":4000,"n":0},
{"p":"D","g":"no_High","t":0,"n":59},{"p":"D","g":"no_High","t":1000,"n":0},{"p":"D","g":"no_High","t":2000,"n":0},{"p":"D","g":"no_High","t":3000,"n":0},{"p":"D","g":"no_High","t":4000,"n":0},
{"p":"D","g":"no_Low","t":0,"n":8},{"p":"D","g":"no_Low","t":1000,"n":0},{"p":"D","g":"no_Low","t":2000,"n":0},{"p":"D","g":"no_Low","t":3000,"n":0},{"p":"D","g":"no_Low","t":4000,"n":0},
{"p":"D","g":"yes_high","t":0,"n":390},{"p":"D","g":"yes_high","t":1000,"n":39},{"p":"D","g":"yes_high","t":2000,"n":7},{"p":"D","g":"yes_high","t":3000,"n":2},{"p":"D","g":"yes_high","t":4000,"n":0},
{"p":"D","g":"yes_low","t":0,"n":45},{"p":"D","g":"yes_low","t":1000,"n":11},{"p":"D","g":"yes_low","t":2000,"n":4},{"p":"D","g":"yes_low","t":3000,"n":1},{"p":"D","g":"yes_low","t":4000,"n":0},
{"p":"E","g":"no_High","t":0,"n":44},{"p":"E","g":"no_High","t":1000,"n":1},{"p":"E","g":"no_High","t":2000,"n":0},{"p":"E","g":"no_High","t":3000,"n":0},{"p":"E","g":"no_High","t":4000,"n":0},
{"p":"E","g":"no_Low","t":0,"n":44},{"p":"E","g":"no_Low","t":1000,"n":3},{"p":"E","g":"no_Low","t":2000,"n":1},{"p":"E","g":"no_Low","t":3000,"n":1},{"p":"E","g":"no_Low","t":4000,"n":0},
{"p":"E","g":"yes_high","t":0,"n":330},{"p":"E","g":"yes_high","t":1000,"n":36},{"p":"E","g":"yes_high","t":2000,"n":7},{"p":"E","g":"yes_high","t":3000,"n":2},{"p":"E","g":"yes_high","t":4000,"n":0},
{"p":"E","g":"yes_low","t":0,"n":36},{"p":"E","g":"yes_low","t":1000,"n":7},{"p":"E","g":"yes_low","t":2000,"n":3},{"p":"E","g":"yes_low","t":3000,"n":0},{"p":"E","g":"yes_low","t":4000,"n":0},
{"p":"F","g":"no_High","t":0,"n":199},{"p":"F","g":"no_High","t":2000,"n":2},{"p":"F","g":"no_High","t":4000,"n":1},{"p":"F","g":"no_High","t":6000,"n":1},
{"p":"F","g":"no_Low","t":0,"n":18},{"p":"F","g":"no_Low","t":2000,"n":1},{"p":"F","g":"no_Low","t":4000,"n":1},{"p":"F","g":"no_Low","t":6000,"n":0},
{"p":"F","g":"yes_high","t":0,"n":104},{"p":"F","g":"yes_high","t":2000,"n":11},{"p":"F","g":"yes_high","t":4000,"n":0},{"p":"F","g":"yes_high","t":6000,"n":0},
{"p":"F","g":"yes_low","t":0,"n":313},{"p":"F","g":"yes_low","t":2000,"n":42},{"p":"F","g":"yes_low","t":4000,"n":10},{"p":"F","g":"yes_low","t":6000,"n":0},
{"p":"G","g":"no_High","t":0,"n":110},{"p":"G","g":"no_High","t":2000,"n":8},{"p":"G","g":"no_High","t":4000,"n":2},{"p":"G","g":"no_High","t":6000,"n":0},
{"p":"G","g":"no_Low","t":0,"n":85},{"p":"G","g":"no_Low","t":2000,"n":9},{"p":"G","g":"no_Low","t":4000,"n":0},{"p":"G","g":"no_Low","t":6000,"n":0},
{"p":"G","g":"yes_high","t":0,"n":197},{"p":"G","g":"yes_high","t":2000,"n":7},{"p":"G","g":"yes_high","t":4000,"n":1},{"p":"G","g":"yes_high","t":6000,"n":1},
{"p":"G","g":"yes_low","t":0,"n":197},{"p":"G","g":"yes_low","t":2000,"n":32},{"p":"G","g":"yes_low","t":4000,"n":9},{"p":"G","g":"yes_low","t":6000,"n":0},
{"p":"H","g":"no_High","t":0,"n":236},{"p":"H","g":"no_High","t":2000,"n":7},{"p":"H","g":"no_High","t":4000,"n":1},{"p":"H","g":"no_High","t":6000,"n":1},
{"p":"H","g":"no_Low","t":0,"n":236},{"p":"H","g":"no_Low","t":2000,"n":31},{"p":"H","g":"no_Low","t":4000,"n":6},{"p":"H","g":"no_Low","t":6000,"n":0},
{"p":"H","g":"yes_high","t":0,"n":21},{"p":"H","g":"yes_high","t":2000,"n":2},{"p":"H","g":"yes_high","t":4000,"n":0},{"p":"H","g":"yes_high","t":6000,"n":0},
{"p":"H","g":"yes_low","t":0,"n":144},{"p":"H","g":"yes_low","t":2000,"n":18},{"p":"H","g":"yes_low","t":4000,"n":5},{"p":"H","g":"yes_low","t":6000,"n":0},
{"p":"I","g":"no_High","t":0,"n":173},{"p":"I","g":"no_High","t":2000,"n":18},{"p":"I","g":"no_High","t":4000,"n":2},{"p":"I","g":"no_High","t":6000,"n":1},
{"p":"I","g":"no_Low","t":0,"n":166},{"p":"I","g":"no_Low","t":2000,"n":18},{"p":"I","g":"no_Low","t":4000,"n":5},{"p":"I","g":"no_Low","t":6000,"n":0},
{"p":"I","g":"yes_high","t":0,"n":21},{"p":"I","g":"yes_high","t":2000,"n":2},{"p":"I","g":"yes_high","t":4000,"n":0},{"p":"I","g":"yes_high","t":6000,"n":0},
{"p":"I","g":"yes_low","t":0,"n":144},{"p":"I","g":"yes_low","t":2000,"n":18},{"p":"I","g":"yes_low","t":4000,"n":5},{"p":"I","g":"yes_low","t":6000,"n":0}
]
},
"vconcat":[
{"vconcat":[
{"hconcat":[
{"vconcat":[
{"width":218,"height":82,"layer":[
{"data":{"name":"km"},"transform":[{"filter":"datum.p=='A1'"}],"mark":{"type":"line","interpolate":"step-after","strokeWidth":1.2},"encoding":{"x":{"field":"t","type":"quantitative","scale":{"domain":[-200,4200],"nice":false,"zero":false},"axis":{"values":[0,1000,2000,3000,4000],"format":"d","title":"Day"}},"y":{"field":"s","type":"quantitative","scale":{"domain":[-0.05,1.05],"nice":false,"zero":false},"axis":{"values":[0,0.25,0.5,0.75,1],"format":".2f","title":"Survival probability","minExtent":24,"maxExtent":24,"titlePadding":1}},"color":{"field":"g","type":"nominal","scale":{"domain":["High","Low"],"range":["#EE3A2C","#5E9DD3"]},"legend":{"title":"Strata","orient":"none","legendX":73,"legendY":-25}}}},
{"data":{"name":"cen"},"transform":[{"filter":"datum.p=='A1'"}],"mark":{"type":"point","shape":"M-1,0H1M0,-1V1","filled":false,"size":16,"strokeWidth":0.8,"opacity":1},"encoding":{"x":{"field":"t","type":"quantitative"},"y":{"field":"s","type":"quantitative"},"color":{"field":"g","type":"nominal"}}},
{"data":{"name":"med"},"transform":[{"filter":"datum.p=='A1'"}],"mark":{"type":"rule","strokeDash":[3,2],"strokeWidth":0.7,"color":"#333"},"encoding":{"x":{"field":"t","type":"quantitative"},"y":{"datum":0.5,"type":"quantitative"},"y2":{"datum":0}}},
{"data":{"name":"med"},"transform":[{"filter":"datum.p=='A1'"},{"aggregate":[{"op":"max","field":"t","as":"m"}]}],"mark":{"type":"rule","strokeDash":[3,2],"strokeWidth":0.7,"color":"#333"},"encoding":{"x":{"field":"m","type":"quantitative"},"x2":{"datum":0},"y":{"datum":0.5,"type":"quantitative"}}},
{"data":{"name":"ann"},"transform":[{"filter":"datum.p=='A1' && datum.k=='title'"}],"mark":{"type":"text","font":"Liberation Serif","fontSize":10.5,"color":"#808080"},"encoding":{"x":{"field":"t","type":"quantitative"},"y":{"field":"s","type":"quantitative"},"text":{"field":"txt","type":"nominal"}}},
{"data":{"name":"ann"},"transform":[{"filter":"datum.p=='A1' && datum.k=='note'"}],"mark":{"type":"text","align":"left","fontSize":8.5,"color":"#1a1a1a"},"encoding":{"x":{"field":"t","type":"quantitative"},"y":{"field":"s","type":"quantitative"},"text":{"field":"txt","type":"nominal"}}},
{"data":{"name":"ann"},"transform":[{"filter":"datum.p=='A1' && datum.k=='letter'"}],"mark":{"type":"text","fontSize":11,"fontWeight":"bold","color":"#000"},"encoding":{"x":{"field":"t","type":"quantitative"},"y":{"field":"s","type":"quantitative"},"text":{"field":"txt","type":"nominal"}}}
]},
{"width":218,"height":22,"title":"Number at risk","data":{"name":"risk"},"transform":[{"filter":"datum.p=='A1'"}],"mark":{"type":"text","fontSize":8.5,"color":"#1a1a1a"},"encoding":{"x":{"field":"t","type":"quantitative","scale":{"domain":[-200,4200],"nice":false,"zero":false},"axis":{"values":[0,1000,2000,3000,4000],"format":"d","title":"Day"}},"y":{"field":"g","type":"nominal","scale":{"domain":["High","Low"],"padding":0.5},"axis":{"title":"Strata","minExtent":24,"maxExtent":24,"titlePadding":1,"encode":{"labels":{"update":{"fill":{"signal":"datum.value=='High' ? '#EE3A2C' : '#5E9DD3'"}}}}}},"text":{"field":"n","type":"quantitative"}}}
],"spacing":12.8,"resolve":{"scale":{"color":"independent"}}},
{"vconcat":[
{"width":233,"height":82,"layer":[
{"data":{"name":"km"},"transform":[{"filter":"datum.p=='A2'"}],"mark":{"type":"line","interpolate":"step-after","strokeWidth":1.2},"encoding":{"x":{"field":"t","type":"quantitative","scale":{"domain":[-200,4200],"nice":false,"zero":false},"axis":{"values":[0,1000,2000,3000,4000],"format":"d","title":"Day"}},"y":{"field":"s","type":"quantitative","scale":{"domain":[-0.05,1.05],"nice":false,"zero":false},"axis":{"values":[0,0.25,0.5,0.75,1],"format":".2f","title":"Survival probability","minExtent":18,"maxExtent":18}},"color":{"field":"g","type":"nominal","scale":{"domain":["High","Low"],"range":["#EE3A2C","#5E9DD3"]},"legend":{"title":"Strata","orient":"none","legendX":78,"legendY":-25}}}},
{"data":{"name":"cen"},"transform":[{"filter":"datum.p=='A2'"}],"mark":{"type":"point","shape":"M-1,0H1M0,-1V1","filled":false,"size":16,"strokeWidth":0.8,"opacity":1},"encoding":{"x":{"field":"t","type":"quantitative"},"y":{"field":"s","type":"quantitative"},"color":{"field":"g","type":"nominal"}}},
{"data":{"name":"med"},"transform":[{"filter":"datum.p=='A2'"}],"mark":{"type":"rule","strokeDash":[3,2],"strokeWidth":0.7,"color":"#333"},"encoding":{"x":{"field":"t","type":"quantitative"},"y":{"datum":0.5,"type":"quantitative"},"y2":{"datum":0}}},
{"data":{"name":"med"},"transform":[{"filter":"datum.p=='A2'"},{"aggregate":[{"op":"max","field":"t","as":"m"}]}],"mark":{"type":"rule","strokeDash":[3,2],"strokeWidth":0.7,"color":"#333"},"encoding":{"x":{"field":"m","type":"quantitative"},"x2":{"datum":0},"y":{"datum":0.5,"type":"quantitative"}}},
{"data":{"name":"ann"},"transform":[{"filter":"datum.p=='A2' && datum.k=='title'"}],"mark":{"type":"text","font":"Liberation Serif","fontSize":10.5,"color":"#808080"},"encoding":{"x":{"field":"t","type":"quantitative"},"y":{"field":"s","type":"quantitative"},"text":{"field":"txt","type":"nominal"}}},
{"data":{"name":"ann"},"transform":[{"filter":"datum.p=='A2' && datum.k=='note'"}],"mark":{"type":"text","align":"left","fontSize":8.5,"color":"#1a1a1a"},"encoding":{"x":{"field":"t","type":"quantitative"},"y":{"field":"s","type":"quantitative"},"text":{"field":"txt","type":"nominal"}}}
]},
{"width":233,"height":22,"title":"Number at risk","data":{"name":"risk"},"transform":[{"filter":"datum.p=='A2'"}],"mark":{"type":"text","fontSize":8.5,"color":"#1a1a1a"},"encoding":{"x":{"field":"t","type":"quantitative","scale":{"domain":[-200,4200],"nice":false,"zero":false},"axis":{"values":[0,1000,2000,3000,4000],"format":"d","title":"Day"}},"y":{"field":"g","type":"nominal","scale":{"domain":["High","Low"],"padding":0.5},"axis":{"title":"Strata","minExtent":18,"maxExtent":18,"labelFontSize":8,"encode":{"labels":{"update":{"fill":{"signal":"datum.value=='High' ? '#EE3A2C' : '#5E9DD3'"}}}}}},"text":{"field":"n","type":"quantitative"}}}
],"spacing":12.8,"resolve":{"scale":{"color":"independent"}}},
{"vconcat":[
{"width":232,"height":83,"layer":[
{"data":{"name":"km"},"transform":[{"filter":"datum.p=='A3'"}],"mark":{"type":"line","interpolate":"step-after","strokeWidth":1.2},"encoding":{"x":{"field":"t","type":"quantitative","scale":{"domain":[-200,4200],"nice":false,"zero":false},"axis":{"values":[0,1000,2000,3000,4000],"format":"d","title":"Day"}},"y":{"field":"s","type":"quantitative","scale":{"domain":[-0.05,1.05],"nice":false,"zero":false},"axis":{"values":[0,0.25,0.5,0.75,1],"format":".2f","title":"Survival probability","minExtent":22,"maxExtent":22}},"color":{"field":"g","type":"nominal","scale":{"domain":["High","Low"],"range":["#EE3A2C","#5E9DD3"]},"legend":{"title":"Strata","orient":"none","legendX":75,"legendY":-25}}}},
{"data":{"name":"cen"},"transform":[{"filter":"datum.p=='A3'"}],"mark":{"type":"point","shape":"M-1,0H1M0,-1V1","filled":false,"size":16,"strokeWidth":0.8,"opacity":1},"encoding":{"x":{"field":"t","type":"quantitative"},"y":{"field":"s","type":"quantitative"},"color":{"field":"g","type":"nominal"}}},
{"data":{"name":"med"},"transform":[{"filter":"datum.p=='A3'"}],"mark":{"type":"rule","strokeDash":[3,2],"strokeWidth":0.7,"color":"#333"},"encoding":{"x":{"field":"t","type":"quantitative"},"y":{"datum":0.5,"type":"quantitative"},"y2":{"datum":0}}},
{"data":{"name":"med"},"transform":[{"filter":"datum.p=='A3'"},{"aggregate":[{"op":"max","field":"t","as":"m"}]}],"mark":{"type":"rule","strokeDash":[3,2],"strokeWidth":0.7,"color":"#333"},"encoding":{"x":{"field":"m","type":"quantitative"},"x2":{"datum":0},"y":{"datum":0.5,"type":"quantitative"}}},
{"data":{"name":"ann"},"transform":[{"filter":"datum.p=='A3' && datum.k=='title'"}],"mark":{"type":"text","font":"Liberation Serif","fontSize":10.5,"color":"#808080"},"encoding":{"x":{"field":"t","type":"quantitative"},"y":{"field":"s","type":"quantitative"},"text":{"field":"txt","type":"nominal"}}},
{"data":{"name":"ann"},"transform":[{"filter":"datum.p=='A3' && datum.k=='note'"}],"mark":{"type":"text","align":"left","fontSize":8.5,"color":"#1a1a1a"},"encoding":{"x":{"field":"t","type":"quantitative"},"y":{"field":"s","type":"quantitative"},"text":{"field":"txt","type":"nominal"}}}
]},
{"width":232,"height":28,"title":"Number at risk","data":{"name":"risk"},"transform":[{"filter":"datum.p=='A3'"}],"mark":{"type":"text","fontSize":8.5,"color":"#1a1a1a"},"encoding":{"x":{"field":"t","type":"quantitative","scale":{"domain":[-200,4200],"nice":false,"zero":false},"axis":{"values":[0,1000,2000,3000,4000],"format":"d","title":"Day"}},"y":{"field":"g","type":"nominal","scale":{"domain":["High","Low"],"padding":0.5},"axis":{"title":"Strata","minExtent":22,"maxExtent":22,"encode":{"labels":{"update":{"fill":{"signal":"datum.value=='High' ? '#EE3A2C' : '#5E9DD3'"}}}}}},"text":{"field":"n","type":"quantitative"}}}
],"spacing":7.3,"resolve":{"scale":{"color":"independent"}}}
],"spacing":-3,"resolve":{"scale":{"color":"independent"}}},
{"hconcat":[
{"vconcat":[
{"width":208,"height":98,"layer":[
{"data":{"name":"km"},"transform":[{"filter":"datum.p=='B'"}],"mark":{"type":"line","interpolate":"step-after","strokeWidth":1.2},"encoding":{"x":{"field":"t","type":"quantitative","scale":{"domain":[-400,8400],"nice":false,"zero":false},"axis":{"values":[0,2000,4000,6000,8000],"format":"d","title":"Day","titlePadding":-6}},"y":{"field":"s","type":"quantitative","scale":{"domain":[-0.05,1.05],"nice":false,"zero":false},"axis":{"values":[0,0.25,0.5,0.75,1],"format":".2f","title":"Survival probability","minExtent":24,"maxExtent":24,"titlePadding":1}},"color":{"field":"g","type":"nominal","scale":{"domain":["High","Low"],"range":["#EE3A2C","#5E9DD3"]},"legend":{"title":"Strata","orient":"none","legendX":67,"legendY":-23}}}},
{"data":{"name":"cen"},"transform":[{"filter":"datum.p=='B'"}],"mark":{"type":"point","shape":"M-1,0H1M0,-1V1","filled":false,"size":16,"strokeWidth":0.8,"opacity":1},"encoding":{"x":{"field":"t","type":"quantitative"},"y":{"field":"s","type":"quantitative"},"color":{"field":"g","type":"nominal"}}},
{"data":{"name":"med"},"transform":[{"filter":"datum.p=='B'"}],"mark":{"type":"rule","strokeDash":[3,2],"strokeWidth":0.7,"color":"#333"},"encoding":{"x":{"field":"t","type":"quantitative"},"y":{"datum":0.5,"type":"quantitative"},"y2":{"datum":0}}},
{"data":{"name":"med"},"transform":[{"filter":"datum.p=='B'"},{"aggregate":[{"op":"max","field":"t","as":"m"}]}],"mark":{"type":"rule","strokeDash":[3,2],"strokeWidth":0.7,"color":"#333"},"encoding":{"x":{"field":"m","type":"quantitative"},"x2":{"datum":0},"y":{"datum":0.5,"type":"quantitative"}}},
{"data":{"name":"ann"},"transform":[{"filter":"datum.p=='B' && datum.k=='title'"}],"mark":{"type":"text","font":"Liberation Serif","fontSize":10.5,"color":"#808080"},"encoding":{"x":{"field":"t","type":"quantitative"},"y":{"field":"s","type":"quantitative"},"text":{"field":"txt","type":"nominal"}}},
{"data":{"name":"ann"},"transform":[{"filter":"datum.p=='B' && datum.k=='note'"}],"mark":{"type":"text","align":"left","fontSize":8.5,"color":"#1a1a1a"},"encoding":{"x":{"field":"t","type":"quantitative"},"y":{"field":"s","type":"quantitative"},"text":{"field":"txt","type":"nominal"}}},
{"data":{"name":"ann"},"transform":[{"filter":"datum.p=='B' && datum.k=='letter'"}],"mark":{"type":"text","fontSize":11,"fontWeight":"bold","color":"#000"},"encoding":{"x":{"field":"t","type":"quantitative"},"y":{"field":"s","type":"quantitative"},"text":{"field":"txt","type":"nominal"}}}
]},
{"width":208,"height":28,"title":"Number at risk","data":{"name":"risk"},"transform":[{"filter":"datum.p=='B'"}],"mark":{"type":"text","fontSize":8.5,"color":"#1a1a1a"},"encoding":{"x":{"field":"t","type":"quantitative","scale":{"domain":[-400,8400],"nice":false,"zero":false},"axis":{"values":[0,2000,4000,6000,8000],"format":"d","title":"Day","titlePadding":-6}},"y":{"field":"g","type":"nominal","scale":{"domain":["High","Low"],"padding":0.5},"axis":{"title":"Strata","minExtent":24,"maxExtent":24,"titlePadding":1,"encode":{"labels":{"update":{"fill":{"signal":"datum.value=='High' ? '#EE3A2C' : '#5E9DD3'"}}}}}},"text":{"field":"n","type":"quantitative"}}}
],"spacing":-5.2,"resolve":{"scale":{"color":"independent"}}},
{"vconcat":[
{"width":206,"height":83,"layer":[
{"data":{"name":"km"},"transform":[{"filter":"datum.p=='C'"}],"mark":{"type":"line","interpolate":"step-after","strokeWidth":1.2},"encoding":{"x":{"field":"t","type":"quantitative","scale":{"domain":[-200,4200],"nice":false,"zero":false},"axis":{"values":[0,1000,2000,3000,4000],"format":"d","title":"Day"}},"y":{"field":"s","type":"quantitative","scale":{"domain":[-0.05,1.05],"nice":false,"zero":false},"axis":{"values":[0,0.25,0.5,0.75,1],"format":".2f","title":"Survival probability","minExtent":33,"maxExtent":33}},"color":{"field":"g","type":"nominal","scale":{"domain":["no_High","no_Low","yes_high","yes_low"],"range":["#EE3A2C","#5E9DD3","#7344A8","#75BF43"]},"legend":{"title":"Strata","orient":"none","legendX":-2,"legendY":-20}}}},
{"data":{"name":"cen"},"transform":[{"filter":"datum.p=='C'"}],"mark":{"type":"point","shape":"M-1,0H1M0,-1V1","filled":false,"size":16,"strokeWidth":0.8,"opacity":1},"encoding":{"x":{"field":"t","type":"quantitative"},"y":{"field":"s","type":"quantitative"},"color":{"field":"g","type":"nominal"}}},
{"data":{"name":"med"},"transform":[{"filter":"datum.p=='C'"}],"mark":{"type":"rule","strokeDash":[3,2],"strokeWidth":0.7,"color":"#333"},"encoding":{"x":{"field":"t","type":"quantitative"},"y":{"datum":0.5,"type":"quantitative"},"y2":{"datum":0}}},
{"data":{"name":"med"},"transform":[{"filter":"datum.p=='C'"},{"aggregate":[{"op":"max","field":"t","as":"m"}]}],"mark":{"type":"rule","strokeDash":[3,2],"strokeWidth":0.7,"color":"#333"},"encoding":{"x":{"field":"m","type":"quantitative"},"x2":{"datum":0},"y":{"datum":0.5,"type":"quantitative"}}},
{"data":{"name":"ann"},"transform":[{"filter":"datum.p=='C' && datum.k=='title'"}],"mark":{"type":"text","font":"Liberation Serif","fontSize":10.5,"color":"#808080"},"encoding":{"x":{"field":"t","type":"quantitative"},"y":{"field":"s","type":"quantitative"},"text":{"field":"txt","type":"nominal"}}},
{"data":{"name":"ann"},"transform":[{"filter":"datum.p=='C' && datum.k=='pw'"}],"mark":{"type":"text","align":"center","fontSize":7.5,"color":"#1a1a1a"},"encoding":{"x":{"field":"t","type":"quantitative"},"y":{"field":"s","type":"quantitative"},"text":{"field":"txt","type":"nominal"}}},
{"data":{"name":"ann"},"transform":[{"filter":"datum.p=='C' && datum.k=='letter'"}],"mark":{"type":"text","fontSize":11,"fontWeight":"bold","color":"#000"},"encoding":{"x":{"field":"t","type":"quantitative"},"y":{"field":"s","type":"quantitative"},"text":{"field":"txt","type":"nominal"}}}
]},
{"width":206,"height":20,"title":"Number at risk","data":{"name":"risk"},"transform":[{"filter":"datum.p=='C'"}],"mark":{"type":"text","fontSize":7.5,"color":"#1a1a1a"},"encoding":{"x":{"field":"t","type":"quantitative","scale":{"domain":[-200,4200],"nice":false,"zero":false},"axis":{"values":[0,1000,2000,3000,4000],"format":"d","title":"Day"}},"y":{"field":"g","type":"nominal","scale":{"domain":["no_High","no_Low","yes_high","yes_low"],"padding":0.5},"axis":{"title":"Strata","minExtent":33,"maxExtent":33,"labelFontSize":7,"encode":{"labels":{"update":{"fill":{"signal":"datum.value=='no_High' ? '#EE3A2C' : datum.value=='no_Low' ? '#5E9DD3' : datum.value=='yes_high' ? '#7344A8' : '#75BF43'"}}}}}},"text":{"field":"n","type":"quantitative"}}}
],"spacing":0,"resolve":{"scale":{"color":"independent"}}},
{"vconcat":[
{"width":206,"height":83,"layer":[
{"data":{"name":"km"},"transform":[{"filter":"datum.p=='D'"}],"mark":{"type":"line","interpolate":"step-after","strokeWidth":1.2},"encoding":{"x":{"field":"t","type":"quantitative","scale":{"domain":[-200,4200],"nice":false,"zero":false},"axis":{"values":[0,1000,2000,3000,4000],"format":"d","title":"Day"}},"y":{"field":"s","type":"quantitative","scale":{"domain":[-0.05,1.05],"nice":false,"zero":false},"axis":{"values":[0,0.25,0.5,0.75,1],"format":".2f","title":"Survival probability","minExtent":32,"maxExtent":32}},"color":{"field":"g","type":"nominal","scale":{"domain":["no_High","no_Low","yes_high","yes_low"],"range":["#EE3A2C","#5E9DD3","#7344A8","#75BF43"]},"legend":{"title":"Strata","orient":"none","legendX":-5,"legendY":-20}}}},
{"data":{"name":"cen"},"transform":[{"filter":"datum.p=='D'"}],"mark":{"type":"point","shape":"M-1,0H1M0,-1V1","filled":false,"size":16,"strokeWidth":0.8,"opacity":1},"encoding":{"x":{"field":"t","type":"quantitative"},"y":{"field":"s","type":"quantitative"},"color":{"field":"g","type":"nominal"}}},
{"data":{"name":"med"},"transform":[{"filter":"datum.p=='D'"}],"mark":{"type":"rule","strokeDash":[3,2],"strokeWidth":0.7,"color":"#333"},"encoding":{"x":{"field":"t","type":"quantitative"},"y":{"datum":0.5,"type":"quantitative"},"y2":{"datum":0}}},
{"data":{"name":"med"},"transform":[{"filter":"datum.p=='D'"},{"aggregate":[{"op":"max","field":"t","as":"m"}]}],"mark":{"type":"rule","strokeDash":[3,2],"strokeWidth":0.7,"color":"#333"},"encoding":{"x":{"field":"m","type":"quantitative"},"x2":{"datum":0},"y":{"datum":0.5,"type":"quantitative"}}},
{"data":{"name":"ann"},"transform":[{"filter":"datum.p=='D' && datum.k=='title'"}],"mark":{"type":"text","font":"Liberation Serif","fontSize":10.5,"color":"#808080"},"encoding":{"x":{"field":"t","type":"quantitative"},"y":{"field":"s","type":"quantitative"},"text":{"field":"txt","type":"nominal"}}},
{"data":{"name":"ann"},"transform":[{"filter":"datum.p=='D' && datum.k=='pw'"}],"mark":{"type":"text","align":"center","fontSize":7.5,"color":"#1a1a1a"},"encoding":{"x":{"field":"t","type":"quantitative"},"y":{"field":"s","type":"quantitative"},"text":{"field":"txt","type":"nominal"}}},
{"data":{"name":"ann"},"transform":[{"filter":"datum.p=='D' && datum.k=='letter'"}],"mark":{"type":"text","fontSize":11,"fontWeight":"bold","color":"#000"},"encoding":{"x":{"field":"t","type":"quantitative"},"y":{"field":"s","type":"quantitative"},"text":{"field":"txt","type":"nominal"}}}
]},
{"width":206,"height":23,"title":"Number at risk","data":{"name":"risk"},"transform":[{"filter":"datum.p=='D'"}],"mark":{"type":"text","fontSize":7.5,"color":"#1a1a1a"},"encoding":{"x":{"field":"t","type":"quantitative","scale":{"domain":[-200,4200],"nice":false,"zero":false},"axis":{"values":[0,1000,2000,3000,4000],"format":"d","title":"Day"}},"y":{"field":"g","type":"nominal","scale":{"domain":["no_High","no_Low","yes_high","yes_low"],"padding":0.5},"axis":{"title":"Strata","minExtent":32,"maxExtent":32,"labelFontSize":7,"encode":{"labels":{"update":{"fill":{"signal":"datum.value=='no_High' ? '#EE3A2C' : datum.value=='no_Low' ? '#5E9DD3' : datum.value=='yes_high' ? '#7344A8' : '#75BF43'"}}}}}},"text":{"field":"n","type":"quantitative"}}}
],"spacing":0.5,"resolve":{"scale":{"color":"independent"}}}
],"spacing":4,"resolve":{"scale":{"color":"independent"}}}
],"spacing":-3.5,"resolve":{"scale":{"color":"independent"}}},
{"vconcat":[
{"hconcat":[
{"vconcat":[
{"width":212,"height":83,"layer":[
{"data":{"name":"km"},"transform":[{"filter":"datum.p=='E'"}],"mark":{"type":"line","interpolate":"step-after","strokeWidth":1.2},"encoding":{"x":{"field":"t","type":"quantitative","scale":{"domain":[-200,4200],"nice":false,"zero":false},"axis":{"values":[0,1000,2000,3000,4000],"format":"d","title":"Day"}},"y":{"field":"s","type":"quantitative","scale":{"domain":[-0.05,1.05],"nice":false,"zero":false},"axis":{"values":[0,0.25,0.5,0.75,1],"format":".2f","title":"Survival probability","minExtent":24,"maxExtent":24,"titlePadding":1}},"color":{"field":"g","type":"nominal","scale":{"domain":["no_High","no_Low","yes_high","yes_low"],"range":["#EE3A2C","#5E9DD3","#7344A8","#75BF43"]},"legend":{"title":"Strata","orient":"none","legendX":-1,"legendY":-27}}}},
{"data":{"name":"cen"},"transform":[{"filter":"datum.p=='E'"}],"mark":{"type":"point","shape":"M-1,0H1M0,-1V1","filled":false,"size":16,"strokeWidth":0.8,"opacity":1},"encoding":{"x":{"field":"t","type":"quantitative"},"y":{"field":"s","type":"quantitative"},"color":{"field":"g","type":"nominal"}}},
{"data":{"name":"med"},"transform":[{"filter":"datum.p=='E'"}],"mark":{"type":"rule","strokeDash":[3,2],"strokeWidth":0.7,"color":"#333"},"encoding":{"x":{"field":"t","type":"quantitative"},"y":{"datum":0.5,"type":"quantitative"},"y2":{"datum":0}}},
{"data":{"name":"med"},"transform":[{"filter":"datum.p=='E'"},{"aggregate":[{"op":"max","field":"t","as":"m"}]}],"mark":{"type":"rule","strokeDash":[3,2],"strokeWidth":0.7,"color":"#333"},"encoding":{"x":{"field":"m","type":"quantitative"},"x2":{"datum":0},"y":{"datum":0.5,"type":"quantitative"}}},
{"data":{"name":"ann"},"transform":[{"filter":"datum.p=='E' && datum.k=='title'"}],"mark":{"type":"text","font":"Liberation Serif","fontSize":10.5,"color":"#808080"},"encoding":{"x":{"field":"t","type":"quantitative"},"y":{"field":"s","type":"quantitative"},"text":{"field":"txt","type":"nominal"}}},
{"data":{"name":"ann"},"transform":[{"filter":"datum.p=='E' && datum.k=='pw'"}],"mark":{"type":"text","align":"center","fontSize":7.5,"color":"#1a1a1a"},"encoding":{"x":{"field":"t","type":"quantitative"},"y":{"field":"s","type":"quantitative"},"text":{"field":"txt","type":"nominal"}}},
{"data":{"name":"ann"},"transform":[{"filter":"datum.p=='E' && datum.k=='letter'"}],"mark":{"type":"text","fontSize":11,"fontWeight":"bold","color":"#000"},"encoding":{"x":{"field":"t","type":"quantitative"},"y":{"field":"s","type":"quantitative"},"text":{"field":"txt","type":"nominal"}}}
]},
{"width":212,"height":20,"title":"Number at risk","data":{"name":"risk"},"transform":[{"filter":"datum.p=='E'"}],"mark":{"type":"text","fontSize":7.5,"color":"#1a1a1a"},"encoding":{"x":{"field":"t","type":"quantitative","scale":{"domain":[-200,4200],"nice":false,"zero":false},"axis":{"values":[0,1000,2000,3000,4000],"format":"d","title":"Day"}},"y":{"field":"g","type":"nominal","scale":{"domain":["no_High","no_Low","yes_high","yes_low"],"padding":0.5},"axis":{"title":"Strata","minExtent":24,"maxExtent":24,"titlePadding":1,"tickSize":2,"labelFontSize":6.5,"encode":{"labels":{"update":{"fill":{"signal":"datum.value=='no_High' ? '#EE3A2C' : datum.value=='no_Low' ? '#5E9DD3' : datum.value=='yes_high' ? '#7344A8' : '#75BF43'"}}}}}},"text":{"field":"n","type":"quantitative"}}}
],"spacing":-1,"resolve":{"scale":{"color":"independent"}}},
{"vconcat":[
{"width":211,"height":82,"layer":[
{"data":{"name":"km"},"transform":[{"filter":"datum.p=='F'"}],"mark":{"type":"line","interpolate":"step-after","strokeWidth":1.2},"encoding":{"x":{"field":"t","type":"quantitative","scale":{"domain":[-310,6200],"nice":false,"zero":false},"axis":{"values":[0,2000,4000,6000],"format":"d","title":"Day"}},"y":{"field":"s","type":"quantitative","scale":{"domain":[-0.05,1.05],"nice":false,"zero":false},"axis":{"values":[0,0.25,0.5,0.75,1],"format":".2f","title":"Survival probability","minExtent":33,"maxExtent":33}},"color":{"field":"g","type":"nominal","scale":{"domain":["no_High","no_Low","yes_high","yes_low"],"range":["#EE3A2C","#5E9DD3","#7344A8","#75BF43"]},"legend":{"title":"Strata","orient":"none","legendX":-2,"legendY":-28}}}},
{"data":{"name":"cen"},"transform":[{"filter":"datum.p=='F'"}],"mark":{"type":"point","shape":"M-1,0H1M0,-1V1","filled":false,"size":16,"strokeWidth":0.8,"opacity":1},"encoding":{"x":{"field":"t","type":"quantitative"},"y":{"field":"s","type":"quantitative"},"color":{"field":"g","type":"nominal"}}},
{"data":{"name":"med"},"transform":[{"filter":"datum.p=='F'"}],"mark":{"type":"rule","strokeDash":[3,2],"strokeWidth":0.7,"color":"#333"},"encoding":{"x":{"field":"t","type":"quantitative"},"y":{"datum":0.5,"type":"quantitative"},"y2":{"datum":0}}},
{"data":{"name":"med"},"transform":[{"filter":"datum.p=='F'"},{"aggregate":[{"op":"max","field":"t","as":"m"}]}],"mark":{"type":"rule","strokeDash":[3,2],"strokeWidth":0.7,"color":"#333"},"encoding":{"x":{"field":"m","type":"quantitative"},"x2":{"datum":0},"y":{"datum":0.5,"type":"quantitative"}}},
{"data":{"name":"ann"},"transform":[{"filter":"datum.p=='F' && datum.k=='title'"}],"mark":{"type":"text","font":"Liberation Serif","fontSize":10.5,"color":"#808080"},"encoding":{"x":{"field":"t","type":"quantitative"},"y":{"field":"s","type":"quantitative"},"text":{"field":"txt","type":"nominal"}}},
{"data":{"name":"ann"},"transform":[{"filter":"datum.p=='F' && datum.k=='pw'"}],"mark":{"type":"text","align":"center","fontSize":7.5,"color":"#1a1a1a"},"encoding":{"x":{"field":"t","type":"quantitative"},"y":{"field":"s","type":"quantitative"},"text":{"field":"txt","type":"nominal"}}},
{"data":{"name":"ann"},"transform":[{"filter":"datum.p=='F' && datum.k=='letter'"}],"mark":{"type":"text","fontSize":11,"fontWeight":"bold","color":"#000"},"encoding":{"x":{"field":"t","type":"quantitative"},"y":{"field":"s","type":"quantitative"},"text":{"field":"txt","type":"nominal"}}}
]},
{"width":211,"height":29,"title":"Number at risk","data":{"name":"risk"},"transform":[{"filter":"datum.p=='F'"}],"mark":{"type":"text","fontSize":7.5,"color":"#1a1a1a"},"encoding":{"x":{"field":"t","type":"quantitative","scale":{"domain":[-310,6200],"nice":false,"zero":false},"axis":{"values":[0,2000,4000,6000],"format":"d","title":"Day"}},"y":{"field":"g","type":"nominal","scale":{"domain":["no_High","no_Low","yes_high","yes_low"],"padding":0.5},"axis":{"title":"Strata","minExtent":33,"maxExtent":33,"labelFontSize":7,"encode":{"labels":{"update":{"fill":{"signal":"datum.value=='no_High' ? '#EE3A2C' : datum.value=='no_Low' ? '#5E9DD3' : datum.value=='yes_high' ? '#7344A8' : '#75BF43'"}}}}}},"text":{"field":"n","type":"quantitative"}}}
],"spacing":2,"resolve":{"scale":{"color":"independent"}}},
{"vconcat":[
{"width":212,"height":82,"layer":[
{"data":{"name":"km"},"transform":[{"filter":"datum.p=='G'"}],"mark":{"type":"line","interpolate":"step-after","strokeWidth":1.2},"encoding":{"x":{"field":"t","type":"quantitative","scale":{"domain":[-320,6480],"nice":false,"zero":false},"axis":{"values":[0,2000,4000,6000],"format":"d","title":"Day"}},"y":{"field":"s","type":"quantitative","scale":{"domain":[-0.05,1.05],"nice":false,"zero":false},"axis":{"values":[0,0.25,0.5,0.75,1],"format":".2f","title":"Survival probability","minExtent":31,"maxExtent":31}},"color":{"field":"g","type":"nominal","scale":{"domain":["no_High","no_Low","yes_high","yes_low"],"range":["#EE3A2C","#5E9DD3","#7344A8","#75BF43"]},"legend":{"title":"Strata","orient":"none","legendX":-3,"legendY":-29}}}},
{"data":{"name":"cen"},"transform":[{"filter":"datum.p=='G'"}],"mark":{"type":"point","shape":"M-1,0H1M0,-1V1","filled":false,"size":16,"strokeWidth":0.8,"opacity":1},"encoding":{"x":{"field":"t","type":"quantitative"},"y":{"field":"s","type":"quantitative"},"color":{"field":"g","type":"nominal"}}},
{"data":{"name":"med"},"transform":[{"filter":"datum.p=='G'"}],"mark":{"type":"rule","strokeDash":[3,2],"strokeWidth":0.7,"color":"#333"},"encoding":{"x":{"field":"t","type":"quantitative"},"y":{"datum":0.5,"type":"quantitative"},"y2":{"datum":0}}},
{"data":{"name":"med"},"transform":[{"filter":"datum.p=='G'"},{"aggregate":[{"op":"max","field":"t","as":"m"}]}],"mark":{"type":"rule","strokeDash":[3,2],"strokeWidth":0.7,"color":"#333"},"encoding":{"x":{"field":"m","type":"quantitative"},"x2":{"datum":0},"y":{"datum":0.5,"type":"quantitative"}}},
{"data":{"name":"ann"},"transform":[{"filter":"datum.p=='G' && datum.k=='title'"}],"mark":{"type":"text","font":"Liberation Serif","fontSize":10.5,"color":"#808080"},"encoding":{"x":{"field":"t","type":"quantitative"},"y":{"field":"s","type":"quantitative"},"text":{"field":"txt","type":"nominal"}}},
{"data":{"name":"ann"},"transform":[{"filter":"datum.p=='G' && datum.k=='pw'"}],"mark":{"type":"text","align":"center","fontSize":7.5,"color":"#1a1a1a"},"encoding":{"x":{"field":"t","type":"quantitative"},"y":{"field":"s","type":"quantitative"},"text":{"field":"txt","type":"nominal"}}},
{"data":{"name":"ann"},"transform":[{"filter":"datum.p=='G' && datum.k=='letter'"}],"mark":{"type":"text","fontSize":11,"fontWeight":"bold","color":"#000"},"encoding":{"x":{"field":"t","type":"quantitative"},"y":{"field":"s","type":"quantitative"},"text":{"field":"txt","type":"nominal"}}}
]},
{"width":212,"height":29,"title":"Number at risk","data":{"name":"risk"},"transform":[{"filter":"datum.p=='G'"}],"mark":{"type":"text","fontSize":7.5,"color":"#1a1a1a"},"encoding":{"x":{"field":"t","type":"quantitative","scale":{"domain":[-320,6480],"nice":false,"zero":false},"axis":{"values":[0,2000,4000,6000],"format":"d","title":"Day"}},"y":{"field":"g","type":"nominal","scale":{"domain":["no_High","no_Low","yes_high","yes_low"],"padding":0.5},"axis":{"title":"Strata","minExtent":31,"maxExtent":31,"labelFontSize":7,"encode":{"labels":{"update":{"fill":{"signal":"datum.value=='no_High' ? '#EE3A2C' : datum.value=='no_Low' ? '#5E9DD3' : datum.value=='yes_high' ? '#7344A8' : '#75BF43'"}}}}}},"text":{"field":"n","type":"quantitative"}}}
],"spacing":5,"resolve":{"scale":{"color":"independent"}}}
],"spacing":0,"resolve":{"scale":{"color":"independent"}}},
{"hconcat":[
{"vconcat":[
{"width":213,"height":83,"layer":[
{"data":{"name":"km"},"transform":[{"filter":"datum.p=='H'"}],"mark":{"type":"line","interpolate":"step-after","strokeWidth":1.2},"encoding":{"x":{"field":"t","type":"quantitative","scale":{"domain":[-310,6350],"nice":false,"zero":false},"axis":{"values":[0,2000,4000,6000],"format":"d","title":"Day"}},"y":{"field":"s","type":"quantitative","scale":{"domain":[-0.05,1.05],"nice":false,"zero":false},"axis":{"values":[0,0.25,0.5,0.75,1],"format":".2f","title":"Survival probability","minExtent":24,"maxExtent":24,"titlePadding":1}},"color":{"field":"g","type":"nominal","scale":{"domain":["no_High","no_Low","yes_high","yes_low"],"range":["#EE3A2C","#5E9DD3","#7344A8","#75BF43"]},"legend":{"title":"Strata","orient":"none","legendX":-2,"legendY":-29}}}},
{"data":{"name":"cen"},"transform":[{"filter":"datum.p=='H'"}],"mark":{"type":"point","shape":"M-1,0H1M0,-1V1","filled":false,"size":16,"strokeWidth":0.8,"opacity":1},"encoding":{"x":{"field":"t","type":"quantitative"},"y":{"field":"s","type":"quantitative"},"color":{"field":"g","type":"nominal"}}},
{"data":{"name":"med"},"transform":[{"filter":"datum.p=='H'"}],"mark":{"type":"rule","strokeDash":[3,2],"strokeWidth":0.7,"color":"#333"},"encoding":{"x":{"field":"t","type":"quantitative"},"y":{"datum":0.5,"type":"quantitative"},"y2":{"datum":0}}},
{"data":{"name":"med"},"transform":[{"filter":"datum.p=='H'"},{"aggregate":[{"op":"max","field":"t","as":"m"}]}],"mark":{"type":"rule","strokeDash":[3,2],"strokeWidth":0.7,"color":"#333"},"encoding":{"x":{"field":"m","type":"quantitative"},"x2":{"datum":0},"y":{"datum":0.5,"type":"quantitative"}}},
{"data":{"name":"ann"},"transform":[{"filter":"datum.p=='H' && datum.k=='title'"}],"mark":{"type":"text","font":"Liberation Serif","fontSize":10.5,"color":"#808080"},"encoding":{"x":{"field":"t","type":"quantitative"},"y":{"field":"s","type":"quantitative"},"text":{"field":"txt","type":"nominal"}}},
{"data":{"name":"ann"},"transform":[{"filter":"datum.p=='H' && datum.k=='pw'"}],"mark":{"type":"text","align":"center","fontSize":7.5,"color":"#1a1a1a"},"encoding":{"x":{"field":"t","type":"quantitative"},"y":{"field":"s","type":"quantitative"},"text":{"field":"txt","type":"nominal"}}},
{"data":{"name":"ann"},"transform":[{"filter":"datum.p=='H' && datum.k=='letter'"}],"mark":{"type":"text","fontSize":11,"fontWeight":"bold","color":"#000"},"encoding":{"x":{"field":"t","type":"quantitative"},"y":{"field":"s","type":"quantitative"},"text":{"field":"txt","type":"nominal"}}}
]},
{"width":213,"height":29,"title":"Number at risk","data":{"name":"risk"},"transform":[{"filter":"datum.p=='H'"}],"mark":{"type":"text","fontSize":7.5,"color":"#1a1a1a"},"encoding":{"x":{"field":"t","type":"quantitative","scale":{"domain":[-310,6350],"nice":false,"zero":false},"axis":{"values":[0,2000,4000,6000],"format":"d","title":"Day"}},"y":{"field":"g","type":"nominal","scale":{"domain":["no_High","no_Low","yes_high","yes_low"],"padding":0.5},"axis":{"title":"Strata","minExtent":24,"maxExtent":24,"titlePadding":1,"tickSize":2,"labelFontSize":6.5,"encode":{"labels":{"update":{"fill":{"signal":"datum.value=='no_High' ? '#EE3A2C' : datum.value=='no_Low' ? '#5E9DD3' : datum.value=='yes_high' ? '#7344A8' : '#75BF43'"}}}}}},"text":{"field":"n","type":"quantitative"}}}
],"spacing":7.6,"resolve":{"scale":{"color":"independent"}}},
{"vconcat":[
{"width":206,"height":87,"layer":[
{"data":{"name":"km"},"transform":[{"filter":"datum.p=='I'"}],"mark":{"type":"line","interpolate":"step-after","strokeWidth":1.2},"encoding":{"x":{"field":"t","type":"quantitative","scale":{"domain":[-310,6200],"nice":false,"zero":false},"axis":{"values":[0,2000,4000,6000],"format":"d","title":"Day"}},"y":{"field":"s","type":"quantitative","scale":{"domain":[-0.05,1.05],"nice":false,"zero":false},"axis":{"values":[0,0.25,0.5,0.75,1],"format":".2f","title":"Survival probability","minExtent":33,"maxExtent":33}},"color":{"field":"g","type":"nominal","scale":{"domain":["no_High","no_Low","yes_high","yes_low"],"range":["#EE3A2C","#5E9DD3","#7344A8","#75BF43"]},"legend":{"title":"Strata","orient":"none","legendX":-4,"legendY":-19}}}},
{"data":{"name":"cen"},"transform":[{"filter":"datum.p=='I'"}],"mark":{"type":"point","shape":"M-1,0H1M0,-1V1","filled":false,"size":16,"strokeWidth":0.8,"opacity":1},"encoding":{"x":{"field":"t","type":"quantitative"},"y":{"field":"s","type":"quantitative"},"color":{"field":"g","type":"nominal"}}},
{"data":{"name":"med"},"transform":[{"filter":"datum.p=='I'"}],"mark":{"type":"rule","strokeDash":[3,2],"strokeWidth":0.7,"color":"#333"},"encoding":{"x":{"field":"t","type":"quantitative"},"y":{"datum":0.5,"type":"quantitative"},"y2":{"datum":0}}},
{"data":{"name":"med"},"transform":[{"filter":"datum.p=='I'"},{"aggregate":[{"op":"max","field":"t","as":"m"}]}],"mark":{"type":"rule","strokeDash":[3,2],"strokeWidth":0.7,"color":"#333"},"encoding":{"x":{"field":"m","type":"quantitative"},"x2":{"datum":0},"y":{"datum":0.5,"type":"quantitative"}}},
{"data":{"name":"ann"},"transform":[{"filter":"datum.p=='I' && datum.k=='title'"}],"mark":{"type":"text","font":"Liberation Serif","fontSize":10.5,"color":"#808080"},"encoding":{"x":{"field":"t","type":"quantitative"},"y":{"field":"s","type":"quantitative"},"text":{"field":"txt","type":"nominal"}}},
{"data":{"name":"ann"},"transform":[{"filter":"datum.p=='I' && datum.k=='pw'"}],"mark":{"type":"text","align":"center","fontSize":7.5,"color":"#1a1a1a"},"encoding":{"x":{"field":"t","type":"quantitative"},"y":{"field":"s","type":"quantitative"},"text":{"field":"txt","type":"nominal"}}},
{"data":{"name":"ann"},"transform":[{"filter":"datum.p=='I' && datum.k=='letter'"}],"mark":{"type":"text","fontSize":11,"fontWeight":"bold","color":"#000"},"encoding":{"x":{"field":"t","type":"quantitative"},"y":{"field":"s","type":"quantitative"},"text":{"field":"txt","type":"nominal"}}}
]},
{"width":206,"height":27,"title":"Number at risk","data":{"name":"risk"},"transform":[{"filter":"datum.p=='I'"}],"mark":{"type":"text","fontSize":7.5,"color":"#1a1a1a"},"encoding":{"x":{"field":"t","type":"quantitative","scale":{"domain":[-310,6200],"nice":false,"zero":false},"axis":{"values":[0,2000,4000,6000],"format":"d","title":"Day"}},"y":{"field":"g","type":"nominal","scale":{"domain":["no_High","no_Low","yes_high","yes_low"],"padding":0.5},"axis":{"title":"Strata","minExtent":33,"maxExtent":33,"labelFontSize":7,"encode":{"labels":{"update":{"fill":{"signal":"datum.value=='no_High' ? '#EE3A2C' : datum.value=='no_Low' ? '#5E9DD3' : datum.value=='yes_high' ? '#7344A8' : '#75BF43'"}}}}}},"text":{"field":"n","type":"quantitative"}}}
],"spacing":5.6,"resolve":{"scale":{"color":"independent"}}}
],"spacing":-1,"resolve":{"scale":{"color":"independent"}}}
],"spacing":-5,"resolve":{"scale":{"color":"independent"}}}
],
"spacing":19.6,
"resolve":{"scale":{"color":"independent"}},
"config":{
"font":"Liberation Sans",
"view":{"stroke":null},
"axis":{"grid":false,"domainColor":"#222","tickColor":"#222","domainWidth":0.8,"tickWidth":0.8,"tickSize":3,"labelColor":"#4d4d4d","labelFontSize":8.5,"labelPadding":1,"labelFlush":false,"labelOverlap":false,"titleFontSize":9.5,"titleFontWeight":"normal","titleColor":"#1a1a1a","titlePadding":2},
"axisX":{"titlePadding":1.5},
"legend":{"direction":"horizontal","titleOrient":"left","titleFontSize":8.5,"titleFontWeight":"normal","titleColor":"#1a1a1a","labelFontSize":8.5,"labelColor":"#1a1a1a","symbolType":"M-1,0H1M0,-0.45V0.45","symbolSize":70,"symbolStrokeWidth":1.2,"columnPadding":1.5,"labelOffset":1,"titlePadding":3,"padding":0},
"title":{"anchor":"start","frame":"group","fontSize":9,"fontWeight":"normal","color":"#1a1a1a","offset":3}
}
}
